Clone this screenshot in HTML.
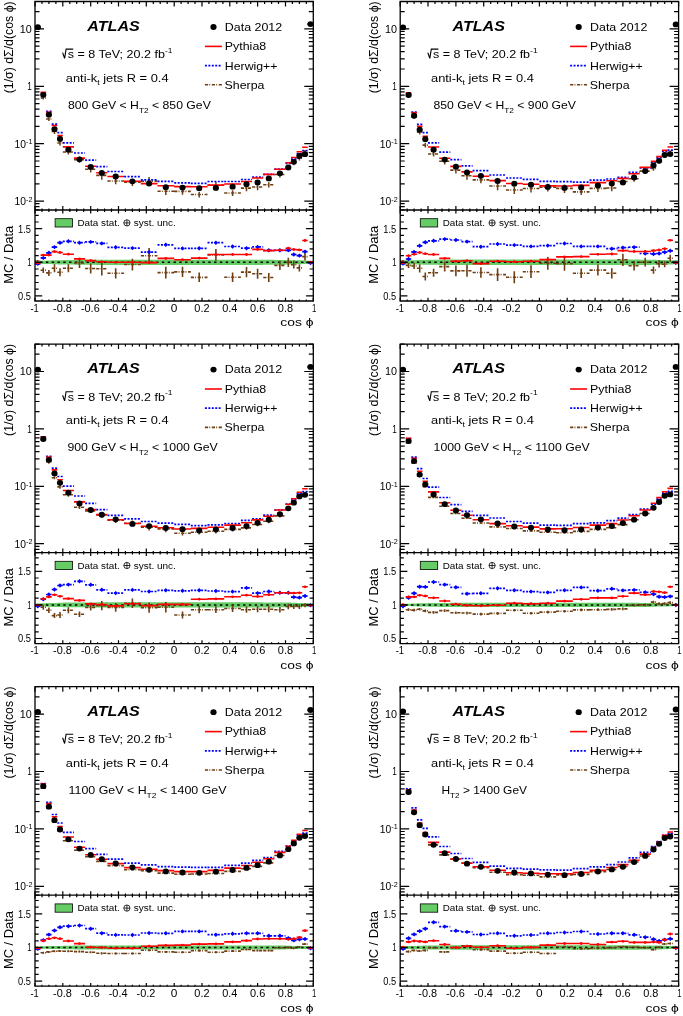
<!DOCTYPE html>
<html><head><meta charset="utf-8"><style>
html,body{margin:0;padding:0;background:#fff;}
svg{display:block;font-family:"Liberation Sans", sans-serif;filter:blur(0.5px);}
</style></head><body>
<svg width="683" height="1016" viewBox="0 0 683 1016">
<rect width="683" height="1016" fill="#fff"/>
<path d="M35 260.8H40.6V263.8H35ZM40.6 260.7H46.1V263.9H40.6ZM46.1 260.5H51.7V264.1H46.1ZM51.7 260.3H57.3V264.3H51.7ZM57.3 260.2H62.8V264.4H57.3ZM62.8 260H74V264.6H62.8ZM74 259.9H85.1V264.7H74ZM85.1 259.8H96.2V264.8H85.1ZM96.2 259.7H107.4V264.9H96.2ZM107.4 259.7H124.1V264.9H107.4ZM124.1 259.7H140.8V264.9H124.1ZM140.8 259.7H157.5V264.9H140.8ZM157.5 259.7H174.2V264.9H157.5ZM174.2 259.7H190.8V264.9H174.2ZM190.8 259.7H207.5V264.9H190.8ZM207.5 259.7H224.2V264.9H207.5ZM224.2 259.7H240.9V264.9H224.2ZM240.9 259.7H252.1V264.9H240.9ZM252.1 259.7H263.2V264.9H252.1ZM263.2 259.8H274.3V264.8H263.2ZM274.3 259.9H285.5V264.7H274.3ZM285.5 260H291V264.6H285.5ZM291 260.2H296.6V264.4H291ZM296.6 260.3H302.2V264.3H296.6ZM302.2 260.5H307.7V264.1H302.2ZM307.7 260.7H313.3V263.9H307.7Z" fill="#66cc66"/>
<line x1="35.00" y1="262.30" x2="313.30" y2="262.30" stroke="#000" stroke-width="1.5" stroke-dasharray="2.4 3.4" stroke-dashoffset="0.7"/>
<path d="M35 26.8H40.6M40.6 98H46.1M46.1 119H51.7M51.7 131.5H57.3M57.3 143H62.8M62.8 152H74M74 159.6H85.1M85.1 169.3H96.2M96.2 175.4H107.4M107.4 181H124.1M124.1 182.2H140.8M140.8 181.1H157.5M157.5 191.3H174.2M174.2 191.4H190.8M190.8 194.5H207.5M207.5 185.3H224.2M224.2 193H240.9M240.9 188.1H252.1M252.1 187H263.2M263.2 184.8H274.3M274.3 174.5H285.5M285.5 167.4H291M291 162.7H296.6M296.6 158.2H302.2M302.2 152.2H307.7M307.7 24.1H313.3" fill="none" stroke="#6f3f12" stroke-width="1.6" stroke-dasharray="3.2 1.2 0.9 1.6"/>
<path d="M37.8 26V27.6M43.3 96.4V99.6M48.9 117.3V120.9M54.5 129.2V134M60 140.7V145.5M68.4 149.7V154.5M79.5 156.8V162.8M90.7 166.4V172.5M101.8 171.7V179.8M115.7 178.1V184.2M132.4 178.9V185.9M149.1 176.9V186.1M165.8 188V195M182.5 188.6V194.7M199.2 191.8V197.5M215.9 182.1V189M232.6 190.3V196M246.5 185.3V191.3M257.6 184.2V190.2M268.8 182.2V187.6M279.9 171.9V177.4M288.3 164.9V170.3M293.8 160.4V165.2M299.4 156.2V160.4M305 149.9V154.7M310.5 23.4V24.9" fill="none" stroke="#6f3f12" stroke-width="1.5"/>
<path d="M35 27.8H40.6M40.6 93.3H46.1M46.1 111.4H51.7M51.7 124.1H57.3M57.3 132.6H62.8M62.8 142.9H74M74 153H85.1M85.1 160.2H96.2M96.2 166.7H107.4M107.4 171.5H124.1M124.1 176.6H140.8M140.8 179.9H157.5M157.5 181.4H174.2M174.2 182.9H190.8M190.8 183.4H207.5M207.5 181.5H224.2M224.2 181.5H240.9M240.9 179.5H252.1M252.1 177.2H263.2M263.2 174.3H274.3M274.3 169.2H285.5M285.5 163.3H291M291 159.1H296.6M296.6 153.6H302.2M302.2 150.5H307.7M307.7 24.4H313.3" fill="none" stroke="#0000ff" stroke-width="1.7" stroke-dasharray="2 1.44"/>
<path d="M35 27.5H40.6M40.6 92.3H46.1M46.1 112.2H51.7M51.7 125.5H57.3M57.3 135.6H62.8M62.8 146.9H74M74 158.1H85.1M85.1 166.2H96.2M96.2 172.7H107.4M107.4 176.5H124.1M124.1 181.3H140.8M140.8 183.6H157.5M157.5 185.8H174.2M174.2 186.6H190.8M190.8 186.7H207.5M207.5 185.1H224.2M224.2 184H240.9M240.9 181.5H252.1M252.1 178H263.2M263.2 174.4H274.3M274.3 169.2H285.5M285.5 162.7H291M291 157.5H296.6M296.6 151.8H302.2M302.2 147.2H307.7M307.7 24.1H313.3" fill="none" stroke="#ff0000" stroke-width="1.6"/>
<path d="M34.7 27.2a3.1 2.9 0 1 0 6.2 0a3.1 2.9 0 1 0 -6.2 0ZM40.2 94.8a3.1 2.9 0 1 0 6.2 0a3.1 2.9 0 1 0 -6.2 0ZM45.8 114.7a3.1 2.9 0 1 0 6.2 0a3.1 2.9 0 1 0 -6.2 0ZM51.4 129.2a3.1 2.9 0 1 0 6.2 0a3.1 2.9 0 1 0 -6.2 0ZM56.9 138.9a3.1 2.9 0 1 0 6.2 0a3.1 2.9 0 1 0 -6.2 0ZM65.3 149.7a3.1 2.9 0 1 0 6.2 0a3.1 2.9 0 1 0 -6.2 0ZM76.4 159.3a3.1 2.9 0 1 0 6.2 0a3.1 2.9 0 1 0 -6.2 0ZM87.6 166.9a3.1 2.9 0 1 0 6.2 0a3.1 2.9 0 1 0 -6.2 0ZM98.7 172.9a3.1 2.9 0 1 0 6.2 0a3.1 2.9 0 1 0 -6.2 0ZM112.6 176.5a3.1 2.9 0 1 0 6.2 0a3.1 2.9 0 1 0 -6.2 0ZM129.3 181.3a3.1 2.9 0 1 0 6.2 0a3.1 2.9 0 1 0 -6.2 0ZM146 183.5a3.1 2.9 0 1 0 6.2 0a3.1 2.9 0 1 0 -6.2 0ZM162.7 187.2a3.1 2.9 0 1 0 6.2 0a3.1 2.9 0 1 0 -6.2 0ZM179.4 187.6a3.1 2.9 0 1 0 6.2 0a3.1 2.9 0 1 0 -6.2 0ZM196.1 188.2a3.1 2.9 0 1 0 6.2 0a3.1 2.9 0 1 0 -6.2 0ZM212.8 187.9a3.1 2.9 0 1 0 6.2 0a3.1 2.9 0 1 0 -6.2 0ZM229.5 186.7a3.1 2.9 0 1 0 6.2 0a3.1 2.9 0 1 0 -6.2 0ZM243.4 184.2a3.1 2.9 0 1 0 6.2 0a3.1 2.9 0 1 0 -6.2 0ZM254.5 182.4a3.1 2.9 0 1 0 6.2 0a3.1 2.9 0 1 0 -6.2 0ZM265.7 178.4a3.1 2.9 0 1 0 6.2 0a3.1 2.9 0 1 0 -6.2 0ZM276.8 173.3a3.1 2.9 0 1 0 6.2 0a3.1 2.9 0 1 0 -6.2 0ZM285.2 167.4a3.1 2.9 0 1 0 6.2 0a3.1 2.9 0 1 0 -6.2 0ZM290.7 161.8a3.1 2.9 0 1 0 6.2 0a3.1 2.9 0 1 0 -6.2 0ZM296.3 156a3.1 2.9 0 1 0 6.2 0a3.1 2.9 0 1 0 -6.2 0ZM301.9 154.2a3.1 2.9 0 1 0 6.2 0a3.1 2.9 0 1 0 -6.2 0ZM307.4 24.1a3.1 2.9 0 1 0 6.2 0a3.1 2.9 0 1 0 -6.2 0Z"/>
<path d="M35 261.2H40.6M40.6 270.3H46.1M46.1 272.9H51.7M51.7 268.2H57.3M57.3 272.3H62.8M62.8 268.2H74M74 263H85.1M85.1 268.5H96.2M96.2 268.8H107.4M107.4 273.3H124.1M124.1 264.5H140.8M140.8 255.7H157.5M157.5 272.6H174.2M174.2 271.9H190.8M190.8 277.4H207.5M207.5 255H224.2M224.2 277.2H240.9M240.9 272.1H252.1M252.1 273.8H263.2M263.2 277.5H274.3M274.3 265.4H285.5M285.5 262.3H291M291 264.6H296.6M296.6 267.9H302.2M302.2 256.6H307.7M307.7 262.3H313.3" fill="none" stroke="#6f3f12" stroke-width="1.6" stroke-dasharray="3.2 1.2 0.9 1.6"/>
<path d="M37.8 259.9V262.6M43.3 267.6V273M48.9 269.9V275.9M54.5 264.2V272.2M60 268.3V276.3M68.4 264.2V272.2M79.5 257.9V268M90.7 263.4V273.5M101.8 262.1V275.5M115.7 268.2V278.4M132.4 258.7V270.4M149.1 248.1V263.4M165.8 266.7V278.4M182.5 266.8V277M199.2 272.6V282.1M215.9 249.1V260.8M232.6 272.5V281.9M246.5 267.1V277.2M257.6 268.8V278.8M268.8 273V282M279.9 260.8V270M288.3 257.7V266.9M293.8 260.6V268.6M299.4 264.4V271.4M305 252.6V260.6M310.5 261V263.6" fill="none" stroke="#6f3f12" stroke-width="1.6"/>
<path d="M35 263.8H40.6M40.6 257.9H46.1M46.1 252.8H51.7M51.7 247.1H57.3M57.3 242.7H62.8M62.8 241.3H74M74 242.7H85.1M85.1 241.9H96.2M96.2 243.4H107.4M107.4 247.3H124.1M124.1 248.1H140.8M140.8 252.1H157.5M157.5 244.8H174.2M174.2 248.4H190.8M190.8 248.3H207.5M207.5 242.7H224.2M224.2 246.5H240.9M240.9 248.2H252.1M252.1 246.9H263.2M263.2 250.3H274.3M274.3 250.3H285.5M285.5 250.3H291M291 254.5H296.6M296.6 255.6H302.2M302.2 251.6H307.7M307.7 263H313.3" fill="none" stroke="#0000ff" stroke-width="1.7" stroke-dasharray="2 1.44"/>
<path d="M37.8 261.6l2.2 2.2l-2.2 2.2l-2.2 -2.2ZM43.3 255.7l2.2 2.2l-2.2 2.2l-2.2 -2.2ZM48.9 250.6l2.2 2.2l-2.2 2.2l-2.2 -2.2ZM54.5 244.9l2.2 2.2l-2.2 2.2l-2.2 -2.2ZM60 240.5l2.2 2.2l-2.2 2.2l-2.2 -2.2ZM68.4 239.1l2.2 2.2l-2.2 2.2l-2.2 -2.2ZM79.5 240.5l2.2 2.2l-2.2 2.2l-2.2 -2.2ZM90.7 239.7l2.2 2.2l-2.2 2.2l-2.2 -2.2ZM101.8 241.2l2.2 2.2l-2.2 2.2l-2.2 -2.2ZM115.7 245.1l2.2 2.2l-2.2 2.2l-2.2 -2.2ZM132.4 245.9l2.2 2.2l-2.2 2.2l-2.2 -2.2ZM149.1 249.9l2.2 2.2l-2.2 2.2l-2.2 -2.2ZM165.8 242.6l2.2 2.2l-2.2 2.2l-2.2 -2.2ZM182.5 246.2l2.2 2.2l-2.2 2.2l-2.2 -2.2ZM199.2 246.1l2.2 2.2l-2.2 2.2l-2.2 -2.2ZM215.9 240.5l2.2 2.2l-2.2 2.2l-2.2 -2.2ZM232.6 244.3l2.2 2.2l-2.2 2.2l-2.2 -2.2ZM246.5 246l2.2 2.2l-2.2 2.2l-2.2 -2.2ZM257.6 244.7l2.2 2.2l-2.2 2.2l-2.2 -2.2ZM268.8 248.1l2.2 2.2l-2.2 2.2l-2.2 -2.2ZM279.9 248.1l2.2 2.2l-2.2 2.2l-2.2 -2.2ZM288.3 248.1l2.2 2.2l-2.2 2.2l-2.2 -2.2ZM293.8 252.3l2.2 2.2l-2.2 2.2l-2.2 -2.2ZM299.4 253.4l2.2 2.2l-2.2 2.2l-2.2 -2.2ZM305 249.4l2.2 2.2l-2.2 2.2l-2.2 -2.2ZM310.5 260.8l2.2 2.2l-2.2 2.2l-2.2 -2.2Z" fill="#0000ff"/>
<path d="M35 263H40.6M40.6 255.1H46.1M46.1 255.1H51.7M51.7 251.6H57.3M57.3 252.5H62.8M62.8 254.2H74M74 258.9H85.1M85.1 260.6H96.2M96.2 261.8H107.4M107.4 262.3H124.1M124.1 262.3H140.8M140.8 262.6H157.5M157.5 258.4H174.2M174.2 259.7H190.8M190.8 258.1H207.5M207.5 254.5H224.2M224.2 254.5H240.9M240.9 254.5H252.1M252.1 249.4H263.2M263.2 250.6H274.3M274.3 250.2H285.5M285.5 248.2H291M291 249.5H296.6M296.6 249.9H302.2M302.2 240.5H307.7M307.7 262.3H313.3" fill="none" stroke="#ff0000" stroke-width="1.6"/>
<path d="M36.4 263a1.4 1.4 0 1 0 2.8 0a1.4 1.4 0 1 0 -2.8 0ZM41.9 255.1a1.4 1.4 0 1 0 2.8 0a1.4 1.4 0 1 0 -2.8 0ZM47.5 255.1a1.4 1.4 0 1 0 2.8 0a1.4 1.4 0 1 0 -2.8 0ZM53.1 251.6a1.4 1.4 0 1 0 2.8 0a1.4 1.4 0 1 0 -2.8 0ZM58.6 252.5a1.4 1.4 0 1 0 2.8 0a1.4 1.4 0 1 0 -2.8 0ZM67 254.2a1.4 1.4 0 1 0 2.8 0a1.4 1.4 0 1 0 -2.8 0ZM78.1 258.9a1.4 1.4 0 1 0 2.8 0a1.4 1.4 0 1 0 -2.8 0ZM89.3 260.6a1.4 1.4 0 1 0 2.8 0a1.4 1.4 0 1 0 -2.8 0ZM100.4 261.8a1.4 1.4 0 1 0 2.8 0a1.4 1.4 0 1 0 -2.8 0ZM114.3 262.3a1.4 1.4 0 1 0 2.8 0a1.4 1.4 0 1 0 -2.8 0ZM131 262.3a1.4 1.4 0 1 0 2.8 0a1.4 1.4 0 1 0 -2.8 0ZM147.7 262.6a1.4 1.4 0 1 0 2.8 0a1.4 1.4 0 1 0 -2.8 0ZM164.4 258.4a1.4 1.4 0 1 0 2.8 0a1.4 1.4 0 1 0 -2.8 0ZM181.1 259.7a1.4 1.4 0 1 0 2.8 0a1.4 1.4 0 1 0 -2.8 0ZM197.8 258.1a1.4 1.4 0 1 0 2.8 0a1.4 1.4 0 1 0 -2.8 0ZM214.5 254.5a1.4 1.4 0 1 0 2.8 0a1.4 1.4 0 1 0 -2.8 0ZM231.2 254.5a1.4 1.4 0 1 0 2.8 0a1.4 1.4 0 1 0 -2.8 0ZM245.1 254.5a1.4 1.4 0 1 0 2.8 0a1.4 1.4 0 1 0 -2.8 0ZM256.2 249.4a1.4 1.4 0 1 0 2.8 0a1.4 1.4 0 1 0 -2.8 0ZM267.4 250.6a1.4 1.4 0 1 0 2.8 0a1.4 1.4 0 1 0 -2.8 0ZM278.5 250.2a1.4 1.4 0 1 0 2.8 0a1.4 1.4 0 1 0 -2.8 0ZM286.9 248.2a1.4 1.4 0 1 0 2.8 0a1.4 1.4 0 1 0 -2.8 0ZM292.4 249.5a1.4 1.4 0 1 0 2.8 0a1.4 1.4 0 1 0 -2.8 0ZM298 249.9a1.4 1.4 0 1 0 2.8 0a1.4 1.4 0 1 0 -2.8 0ZM303.6 240.5a1.4 1.4 0 1 0 2.8 0a1.4 1.4 0 1 0 -2.8 0ZM309.1 262.3a1.4 1.4 0 1 0 2.8 0a1.4 1.4 0 1 0 -2.8 0Z" fill="#ff0000"/>
<path d="M35 1.5H313.3V301H35ZM35 210H313.3" fill="none" stroke="#000" stroke-width="1.3"/>
<path d="M35 1.5V6.5M35 206V213.5M35 301V297.7M42 1.5V4M42 208.4V212M42 301V299.6M48.9 1.5V4M48.9 208.4V212M48.9 301V299.6M55.9 1.5V4M55.9 208.4V212M55.9 301V299.6M62.8 1.5V6.5M62.8 206V213.5M62.8 301V297.7M69.8 1.5V4M69.8 208.4V212M69.8 301V299.6M76.7 1.5V4M76.7 208.4V212M76.7 301V299.6M83.7 1.5V4M83.7 208.4V212M83.7 301V299.6M90.7 1.5V6.5M90.7 206V213.5M90.7 301V297.7M97.6 1.5V4M97.6 208.4V212M97.6 301V299.6M104.6 1.5V4M104.6 208.4V212M104.6 301V299.6M111.5 1.5V4M111.5 208.4V212M111.5 301V299.6M118.5 1.5V6.5M118.5 206V213.5M118.5 301V297.7M125.4 1.5V4M125.4 208.4V212M125.4 301V299.6M132.4 1.5V4M132.4 208.4V212M132.4 301V299.6M139.4 1.5V4M139.4 208.4V212M139.4 301V299.6M146.3 1.5V6.5M146.3 206V213.5M146.3 301V297.7M153.3 1.5V4M153.3 208.4V212M153.3 301V299.6M160.2 1.5V4M160.2 208.4V212M160.2 301V299.6M167.2 1.5V4M167.2 208.4V212M167.2 301V299.6M174.2 1.5V6.5M174.2 206V213.5M174.2 301V297.7M181.1 1.5V4M181.1 208.4V212M181.1 301V299.6M188.1 1.5V4M188.1 208.4V212M188.1 301V299.6M195 1.5V4M195 208.4V212M195 301V299.6M202 1.5V6.5M202 206V213.5M202 301V297.7M208.9 1.5V4M208.9 208.4V212M208.9 301V299.6M215.9 1.5V4M215.9 208.4V212M215.9 301V299.6M222.9 1.5V4M222.9 208.4V212M222.9 301V299.6M229.8 1.5V6.5M229.8 206V213.5M229.8 301V297.7M236.8 1.5V4M236.8 208.4V212M236.8 301V299.6M243.7 1.5V4M243.7 208.4V212M243.7 301V299.6M250.7 1.5V4M250.7 208.4V212M250.7 301V299.6M257.6 1.5V6.5M257.6 206V213.5M257.6 301V297.7M264.6 1.5V4M264.6 208.4V212M264.6 301V299.6M271.6 1.5V4M271.6 208.4V212M271.6 301V299.6M278.5 1.5V4M278.5 208.4V212M278.5 301V299.6M285.5 1.5V6.5M285.5 206V213.5M285.5 301V297.7M292.4 1.5V4M292.4 208.4V212M292.4 301V299.6M299.4 1.5V4M299.4 208.4V212M299.4 301V299.6M306.3 1.5V4M306.3 208.4V212M306.3 301V299.6M313.3 1.5V6.5M313.3 206V213.5M313.3 301V297.7M35 210H39.5M308.8 210H313.3M35 206.7H39.5M308.8 206.7H313.3M35 203.7H39.5M308.8 203.7H313.3M35 201.1H44M304.3 201.1H313.3M35 183.8H39.5M308.8 183.8H313.3M35 173.7H39.5M308.8 173.7H313.3M35 166.5H39.5M308.8 166.5H313.3M35 161H39.5M308.8 161H313.3M35 156.4H39.5M308.8 156.4H313.3M35 152.6H39.5M308.8 152.6H313.3M35 149.3H39.5M308.8 149.3H313.3M35 146.3H39.5M308.8 146.3H313.3M35 143.7H44M304.3 143.7H313.3M35 126.4H39.5M308.8 126.4H313.3M35 116.3H39.5M308.8 116.3H313.3M35 109.1H39.5M308.8 109.1H313.3M35 103.6H39.5M308.8 103.6H313.3M35 99H39.5M308.8 99H313.3M35 95.2H39.5M308.8 95.2H313.3M35 91.9H39.5M308.8 91.9H313.3M35 88.9H39.5M308.8 88.9H313.3M35 86.3H44M304.3 86.3H313.3M35 69H39.5M308.8 69H313.3M35 58.9H39.5M308.8 58.9H313.3M35 51.7H39.5M308.8 51.7H313.3M35 46.2H39.5M308.8 46.2H313.3M35 41.6H39.5M308.8 41.6H313.3M35 37.8H39.5M308.8 37.8H313.3M35 34.5H39.5M308.8 34.5H313.3M35 31.5H39.5M308.8 31.5H313.3M35 28.9H44M304.3 28.9H313.3M35 11.6H39.5M308.8 11.6H313.3M35 1.5H39.5M308.8 1.5H313.3M35 295.9H42.2M306.1 295.9H313.3M35 289.2H38.7M309.6 289.2H313.3M35 282.5H38.7M309.6 282.5H313.3M35 275.7H38.7M309.6 275.7H313.3M35 269H38.7M309.6 269H313.3M35 262.3H42.2M306.1 262.3H313.3M35 255.6H38.7M309.6 255.6H313.3M35 248.9H38.7M309.6 248.9H313.3M35 242.1H38.7M309.6 242.1H313.3M35 235.4H38.7M309.6 235.4H313.3M35 228.7H42.2M306.1 228.7H313.3M35 222H38.7M309.6 222H313.3M35 215.3H38.7M309.6 215.3H313.3" fill="none" stroke="#000" stroke-width="1.2"/>
<text x="19.75" y="32.79" font-size="10.0" textLength="12.00" lengthAdjust="spacingAndGlyphs">10</text>
<text x="27.15" y="90.20" font-size="10.0" textLength="4.60" lengthAdjust="spacingAndGlyphs">1</text>
<text x="14.60" y="147.60" font-size="10.0" textLength="17.85" lengthAdjust="spacingAndGlyphs">10<tspan dy="-3.4" font-size="7">-1</tspan></text>
<text x="14.60" y="205.01" font-size="10.0" textLength="17.85" lengthAdjust="spacingAndGlyphs">10<tspan dy="-3.4" font-size="7">-2</tspan></text>
<text x="18.05" y="232.60" font-size="10.0" textLength="12.90" lengthAdjust="spacingAndGlyphs">1.5</text>
<text x="27.15" y="266.20" font-size="10.0" textLength="4.30" lengthAdjust="spacingAndGlyphs">1</text>
<text x="18.05" y="299.80" font-size="10.0" textLength="12.90" lengthAdjust="spacingAndGlyphs">0.5</text>
<text x="30.50" y="311.60" font-size="10.0" textLength="8.30" lengthAdjust="spacingAndGlyphs">-1</text>
<text x="53.08" y="311.60" font-size="10.0" textLength="18.80" lengthAdjust="spacingAndGlyphs">-0.8</text>
<text x="80.91" y="311.60" font-size="10.0" textLength="18.80" lengthAdjust="spacingAndGlyphs">-0.6</text>
<text x="108.74" y="311.60" font-size="10.0" textLength="18.80" lengthAdjust="spacingAndGlyphs">-0.4</text>
<text x="136.57" y="311.60" font-size="10.0" textLength="18.80" lengthAdjust="spacingAndGlyphs">-0.2</text>
<text x="170.85" y="311.60" font-size="10.0" textLength="6.60" lengthAdjust="spacingAndGlyphs">0</text>
<text x="194.38" y="311.60" font-size="10.0" textLength="15.20" lengthAdjust="spacingAndGlyphs">0.2</text>
<text x="222.21" y="311.60" font-size="10.0" textLength="15.20" lengthAdjust="spacingAndGlyphs">0.4</text>
<text x="250.04" y="311.60" font-size="10.0" textLength="15.20" lengthAdjust="spacingAndGlyphs">0.6</text>
<text x="277.87" y="311.60" font-size="10.0" textLength="15.20" lengthAdjust="spacingAndGlyphs">0.8</text>
<text x="311.95" y="311.60" font-size="10.0" textLength="4.30" lengthAdjust="spacingAndGlyphs">1</text>
<text x="280.30" y="326.30" font-size="11" textLength="33.20" lengthAdjust="spacingAndGlyphs">cos &#981;</text>
<text transform="translate(12.70,93.30) rotate(-90)" font-size="12" textLength="92" lengthAdjust="spacingAndGlyphs">(1/&#963;) d&#931;/d(cos &#981;)</text>
<text transform="translate(13.00,283.80) rotate(-90)" font-size="12.6" textLength="58" lengthAdjust="spacingAndGlyphs">MC / Data</text>
<rect x="55.10" y="218.70" width="17.4" height="8.3" fill="#66cc66" stroke="#000" stroke-width="0.8"/>
<text x="77.50" y="226.00" font-size="9.6" textLength="42.20" lengthAdjust="spacingAndGlyphs">Data stat.</text>
<text x="133.70" y="226.00" font-size="9.6" textLength="42.20" lengthAdjust="spacingAndGlyphs">syst. unc.</text>
<g transform="translate(126.90,222.90)" stroke="#000" stroke-width="0.8"><circle r="3.1" fill="none"/><line x1="-3.1" y1="0" x2="3.1" y2="0"/><line x1="0" y1="-3.1" x2="0" y2="3.1"/></g>
<text x="87.30" y="30.50" font-size="14" textLength="52.50" lengthAdjust="spacingAndGlyphs" font-weight="bold" font-style="italic">ATLAS</text>
<text x="67.70" y="57.90" font-size="10.3" textLength="104.80" lengthAdjust="spacingAndGlyphs" >s = 8 TeV; 20.2 fb<tspan dy="-5.2" font-size="7">-1</tspan></text>
<path d="M62.60,52.60 L64.60,58.30 L66.10,49.10 L73.20,49.10" fill="none" stroke="#000" stroke-width="1.1"/>
<text x="65.80" y="81.60" font-size="10.5" textLength="102.80" lengthAdjust="spacingAndGlyphs" >anti-k<tspan dy="3.2" font-size="7">t</tspan><tspan dy="-3.2"> jets R = 0.4</tspan></text>
<text x="67.90" y="108.70" font-size="10.3" textLength="142.90" lengthAdjust="spacingAndGlyphs" >800 GeV &lt; H<tspan dy="3.9" font-size="7">T2</tspan><tspan dy="-3.9"> &lt; 850 GeV</tspan></text>
<text x="224.80" y="30.65" font-size="10.4" textLength="57.40" lengthAdjust="spacingAndGlyphs" >Data 2012</text>
<text x="224.80" y="50.00" font-size="10.4" textLength="41.40" lengthAdjust="spacingAndGlyphs" >Pythia8</text>
<text x="224.80" y="69.80" font-size="10.4" textLength="52.70" lengthAdjust="spacingAndGlyphs" >Herwig++</text>
<text x="224.50" y="88.50" font-size="10.4" textLength="39.90" lengthAdjust="spacingAndGlyphs" >Sherpa</text>
<ellipse cx="213.50" cy="27.00" rx="3.1" ry="2.9"/>
<line x1="204.90" y1="46.40" x2="221.90" y2="46.40" stroke="#ff0000" stroke-width="1.6" />
<line x1="204.90" y1="65.60" x2="221.50" y2="65.60" stroke="#0000ff" stroke-width="1.7" stroke-dasharray="2 1.44"/>
<line x1="204.90" y1="84.80" x2="221.90" y2="84.80" stroke="#6f3f12" stroke-width="1.6" stroke-dasharray="3.2 1.2 0.9 1.6"/>
<path d="M400.2 260.4H405.8V264.2H400.2ZM405.8 260.3H411.3V264.3H405.8ZM411.3 260.2H416.9V264.4H411.3ZM416.9 260H422.5V264.6H416.9ZM422.5 259.9H428V264.7H422.5ZM428 259.8H439.2V264.8H428ZM439.2 259.7H450.3V264.9H439.2ZM450.3 259.6H461.4V265H450.3ZM461.4 259.5H472.6V265.1H461.4ZM472.6 259.5H489.3V265.1H472.6ZM489.3 259.5H506V265.1H489.3ZM506 259.5H522.7V265.1H506ZM522.7 259.5H539.4V265.1H522.7ZM539.4 259.5H556.1V265.1H539.4ZM556.1 259.5H572.8V265.1H556.1ZM572.8 259.5H589.5V265.1H572.8ZM589.5 259.5H606.2V265.1H589.5ZM606.2 259.5H617.4V265.1H606.2ZM617.4 259.5H628.5V265.1H617.4ZM628.5 259.6H639.6V265H628.5ZM639.6 259.7H650.8V264.9H639.6ZM650.8 259.8H656.3V264.8H650.8ZM656.3 259.9H661.9V264.7H656.3ZM661.9 260H667.5V264.6H661.9ZM667.5 260.2H673V264.4H667.5ZM673 260.3H678.6V264.3H673Z" fill="#66cc66"/>
<line x1="400.20" y1="262.30" x2="678.60" y2="262.30" stroke="#000" stroke-width="1.5" stroke-dasharray="2.4 3.4" stroke-dashoffset="0.7"/>
<path d="M400.2 27.1H405.8M405.8 96.2H411.3M411.3 117.1H416.9M416.9 132.1H422.5M422.5 145.1H428M428 154H439.2M439.2 161.3H450.3M450.3 170.1H461.4M461.4 175.8H472.6M472.6 179.9H489.3M489.3 186H506M506 190H522.7M522.7 188.5H539.4M539.4 187.2H556.1M556.1 188.4H572.8M572.8 191.9H589.5M589.5 188.4H606.2M606.2 188H617.4M617.4 181.5H628.5M628.5 178.7H639.6M639.6 171.1H650.8M650.8 168.5H656.3M656.3 161.4H661.9M661.9 155.8H667.5M667.5 152.6H673M673 24.4H678.6" fill="none" stroke="#6f3f12" stroke-width="1.6" stroke-dasharray="3.2 1.2 0.9 1.6"/>
<path d="M403 26.3V27.9M408.6 94.6V97.8M414.1 115.4V119M419.7 129.8V134.6M425.3 142.8V147.6M433.6 151.7V156.5M444.7 158.4V164.5M455.9 167.2V173.5M467 172.5V179.7M480.9 177V183.2M497.6 182.5V190.2M514.3 186.6V193.9M531 184.9V192.6M547.8 183.7V191.4M564.5 184.4V193.1M581.2 189.3V194.9M597.9 185.4V191.9M611.8 185.2V191.2M622.9 178.1V185.3M634.1 176.1V181.7M645.2 168.6V173.8M653.5 166.5V170.8M659.1 159.3V163.6M664.7 154V157.6M670.2 150.6V154.8M675.8 23.6V25.2" fill="none" stroke="#6f3f12" stroke-width="1.5"/>
<path d="M400.2 27.9H405.8M405.8 93.8H411.3M411.3 112.1H416.9M416.9 124.3H422.5M422.5 132.7H428M428 142.8H439.2M439.2 152.2H450.3M450.3 159.6H461.4M461.4 165.8H472.6M472.6 170.6H489.3M489.3 175H506M506 178H522.7M522.7 179.4H539.4M539.4 181.3H556.1M556.1 181.7H572.8M572.8 182.2H589.5M589.5 180.1H606.2M606.2 179H617.4M617.4 177.4H628.5M628.5 172.3H639.6M639.6 168H650.8M650.8 162.5H656.3M656.3 157.8H661.9M661.9 151.5H667.5M667.5 150.1H673M673 24.6H678.6" fill="none" stroke="#0000ff" stroke-width="1.7" stroke-dasharray="2 1.44"/>
<path d="M400.2 27.6H405.8M405.8 92.7H411.3M411.3 112.9H416.9M416.9 126.4H422.5M422.5 136.2H428M428 147H439.2M439.2 158.2H450.3M450.3 166.4H461.4M461.4 171.9H472.6M472.6 176.3H489.3M489.3 180.6H506M506 183.5H522.7M522.7 184.3H539.4M539.4 185.9H556.1M556.1 186H572.8M572.8 185.4H589.5M589.5 182.6H606.2M606.2 180.7H617.4M617.4 178.4H628.5M628.5 173.7H639.6M639.6 167.4H650.8M650.8 161.4H656.3M656.3 156.6H661.9M661.9 150.4H667.5M667.5 147H673M673 24.6H678.6" fill="none" stroke="#ff0000" stroke-width="1.6"/>
<path d="M399.9 27.4a3.1 2.9 0 1 0 6.2 0a3.1 2.9 0 1 0 -6.2 0ZM405.5 95a3.1 2.9 0 1 0 6.2 0a3.1 2.9 0 1 0 -6.2 0ZM411 115.7a3.1 2.9 0 1 0 6.2 0a3.1 2.9 0 1 0 -6.2 0ZM416.6 129.7a3.1 2.9 0 1 0 6.2 0a3.1 2.9 0 1 0 -6.2 0ZM422.2 139.2a3.1 2.9 0 1 0 6.2 0a3.1 2.9 0 1 0 -6.2 0ZM430.5 149.7a3.1 2.9 0 1 0 6.2 0a3.1 2.9 0 1 0 -6.2 0ZM441.6 159.6a3.1 2.9 0 1 0 6.2 0a3.1 2.9 0 1 0 -6.2 0ZM452.8 166.7a3.1 2.9 0 1 0 6.2 0a3.1 2.9 0 1 0 -6.2 0ZM463.9 172.5a3.1 2.9 0 1 0 6.2 0a3.1 2.9 0 1 0 -6.2 0ZM477.8 175.8a3.1 2.9 0 1 0 6.2 0a3.1 2.9 0 1 0 -6.2 0ZM494.5 181a3.1 2.9 0 1 0 6.2 0a3.1 2.9 0 1 0 -6.2 0ZM511.2 183.7a3.1 2.9 0 1 0 6.2 0a3.1 2.9 0 1 0 -6.2 0ZM527.9 184.7a3.1 2.9 0 1 0 6.2 0a3.1 2.9 0 1 0 -6.2 0ZM544.7 186.9a3.1 2.9 0 1 0 6.2 0a3.1 2.9 0 1 0 -6.2 0ZM561.4 187.9a3.1 2.9 0 1 0 6.2 0a3.1 2.9 0 1 0 -6.2 0ZM578.1 187.4a3.1 2.9 0 1 0 6.2 0a3.1 2.9 0 1 0 -6.2 0ZM594.8 185.4a3.1 2.9 0 1 0 6.2 0a3.1 2.9 0 1 0 -6.2 0ZM608.7 183.6a3.1 2.9 0 1 0 6.2 0a3.1 2.9 0 1 0 -6.2 0ZM619.8 182.4a3.1 2.9 0 1 0 6.2 0a3.1 2.9 0 1 0 -6.2 0ZM631 177.4a3.1 2.9 0 1 0 6.2 0a3.1 2.9 0 1 0 -6.2 0ZM642.1 171.1a3.1 2.9 0 1 0 6.2 0a3.1 2.9 0 1 0 -6.2 0ZM650.4 165.4a3.1 2.9 0 1 0 6.2 0a3.1 2.9 0 1 0 -6.2 0ZM656 160.8a3.1 2.9 0 1 0 6.2 0a3.1 2.9 0 1 0 -6.2 0ZM661.6 155a3.1 2.9 0 1 0 6.2 0a3.1 2.9 0 1 0 -6.2 0ZM667.1 154.1a3.1 2.9 0 1 0 6.2 0a3.1 2.9 0 1 0 -6.2 0ZM672.7 24.4a3.1 2.9 0 1 0 6.2 0a3.1 2.9 0 1 0 -6.2 0Z"/>
<path d="M400.2 261.3H405.8M405.8 265.4H411.3M411.3 266H416.9M416.9 268.3H422.5M422.5 276.5H428M428 272.8H439.2M439.2 266.6H450.3M450.3 270.9H461.4M461.4 270.7H472.6M472.6 272.5H489.3M489.3 274.6H506M506 277.3H522.7M522.7 271.7H539.4M539.4 263.3H556.1M556.1 263.6H572.8M572.8 273.3H589.5M589.5 270.1H606.2M606.2 273.3H617.4M617.4 259.8H628.5M628.5 265.8H639.6M639.6 262.2H650.8M650.8 270.1H656.3M656.3 263.8H661.9M661.9 264.2H667.5M667.5 258.2H673M673 262.3H678.6" fill="none" stroke="#6f3f12" stroke-width="1.6" stroke-dasharray="3.2 1.2 0.9 1.6"/>
<path d="M403 259.9V262.6M408.6 262.7V268.1M414.1 263V269M419.7 264.3V272.4M425.3 272.4V280.5M433.6 268.8V276.8M444.7 261.6V271.6M455.9 265.6V276.2M467 264.7V276.7M480.9 267.3V277.8M497.6 268.2V281M514.3 271.2V283.3M531 265.3V278.1M547.8 256.9V269.7M564.5 256.5V270.8M581.2 268.6V278M597.9 264.6V275.6M611.8 268.3V278.4M622.9 253.8V265.9M634.1 261.1V270.5M645.2 257.8V266.5M653.5 266.5V273.7M659.1 260.1V267.4M664.7 261.2V267.3M670.2 254.7V261.7M675.8 261V263.6" fill="none" stroke="#6f3f12" stroke-width="1.6"/>
<path d="M400.2 263.6H405.8M405.8 259H411.3M411.3 251.9H416.9M416.9 245.8H422.5M422.5 242.3H428M428 240.8H439.2M439.2 239.1H450.3M450.3 240H461.4M461.4 241.6H472.6M472.6 246.7H489.3M489.3 244H506M506 245.1H522.7M522.7 246.4H539.4M539.4 245.6H556.1M556.1 243.5H572.8M572.8 246.4H589.5M589.5 246.4H606.2M606.2 248.7H617.4M617.4 247.6H628.5M628.5 247.2H639.6M639.6 253.5H650.8M650.8 254H656.3M656.3 253.5H661.9M661.9 252.2H667.5M667.5 250.8H673M673 262.7H678.6" fill="none" stroke="#0000ff" stroke-width="1.7" stroke-dasharray="2 1.44"/>
<path d="M403 261.4l2.2 2.2l-2.2 2.2l-2.2 -2.2ZM408.6 256.8l2.2 2.2l-2.2 2.2l-2.2 -2.2ZM414.1 249.7l2.2 2.2l-2.2 2.2l-2.2 -2.2ZM419.7 243.6l2.2 2.2l-2.2 2.2l-2.2 -2.2ZM425.3 240.1l2.2 2.2l-2.2 2.2l-2.2 -2.2ZM433.6 238.6l2.2 2.2l-2.2 2.2l-2.2 -2.2ZM444.7 236.9l2.2 2.2l-2.2 2.2l-2.2 -2.2ZM455.9 237.8l2.2 2.2l-2.2 2.2l-2.2 -2.2ZM467 239.4l2.2 2.2l-2.2 2.2l-2.2 -2.2ZM480.9 244.5l2.2 2.2l-2.2 2.2l-2.2 -2.2ZM497.6 241.8l2.2 2.2l-2.2 2.2l-2.2 -2.2ZM514.3 242.9l2.2 2.2l-2.2 2.2l-2.2 -2.2ZM531 244.2l2.2 2.2l-2.2 2.2l-2.2 -2.2ZM547.8 243.4l2.2 2.2l-2.2 2.2l-2.2 -2.2ZM564.5 241.3l2.2 2.2l-2.2 2.2l-2.2 -2.2ZM581.2 244.2l2.2 2.2l-2.2 2.2l-2.2 -2.2ZM597.9 244.2l2.2 2.2l-2.2 2.2l-2.2 -2.2ZM611.8 246.5l2.2 2.2l-2.2 2.2l-2.2 -2.2ZM622.9 245.4l2.2 2.2l-2.2 2.2l-2.2 -2.2ZM634.1 245l2.2 2.2l-2.2 2.2l-2.2 -2.2ZM645.2 251.3l2.2 2.2l-2.2 2.2l-2.2 -2.2ZM653.5 251.8l2.2 2.2l-2.2 2.2l-2.2 -2.2ZM659.1 251.3l2.2 2.2l-2.2 2.2l-2.2 -2.2ZM664.7 250l2.2 2.2l-2.2 2.2l-2.2 -2.2ZM670.2 248.6l2.2 2.2l-2.2 2.2l-2.2 -2.2ZM675.8 260.5l2.2 2.2l-2.2 2.2l-2.2 -2.2Z" fill="#0000ff"/>
<path d="M400.2 262.7H405.8M405.8 255.7H411.3M411.3 254.3H416.9M416.9 252.5H422.5M422.5 253.7H428M428 254.5H439.2M439.2 258.4H450.3M450.3 261.3H461.4M461.4 260.7H472.6M472.6 263.6H489.3M489.3 261.2H506M506 261.7H522.7M522.7 261.2H539.4M539.4 259.6H556.1M556.1 256.9H572.8M572.8 256.6H589.5M589.5 254.3H606.2M606.2 254H617.4M617.4 250.6H628.5M628.5 251.5H639.6M639.6 251.5H650.8M650.8 250.6H656.3M656.3 250H661.9M661.9 248.7H667.5M667.5 240.3H673M673 262.7H678.6" fill="none" stroke="#ff0000" stroke-width="1.6"/>
<path d="M401.6 262.7a1.4 1.4 0 1 0 2.8 0a1.4 1.4 0 1 0 -2.8 0ZM407.2 255.7a1.4 1.4 0 1 0 2.8 0a1.4 1.4 0 1 0 -2.8 0ZM412.7 254.3a1.4 1.4 0 1 0 2.8 0a1.4 1.4 0 1 0 -2.8 0ZM418.3 252.5a1.4 1.4 0 1 0 2.8 0a1.4 1.4 0 1 0 -2.8 0ZM423.9 253.7a1.4 1.4 0 1 0 2.8 0a1.4 1.4 0 1 0 -2.8 0ZM432.2 254.5a1.4 1.4 0 1 0 2.8 0a1.4 1.4 0 1 0 -2.8 0ZM443.3 258.4a1.4 1.4 0 1 0 2.8 0a1.4 1.4 0 1 0 -2.8 0ZM454.5 261.3a1.4 1.4 0 1 0 2.8 0a1.4 1.4 0 1 0 -2.8 0ZM465.6 260.7a1.4 1.4 0 1 0 2.8 0a1.4 1.4 0 1 0 -2.8 0ZM479.5 263.6a1.4 1.4 0 1 0 2.8 0a1.4 1.4 0 1 0 -2.8 0ZM496.2 261.2a1.4 1.4 0 1 0 2.8 0a1.4 1.4 0 1 0 -2.8 0ZM512.9 261.7a1.4 1.4 0 1 0 2.8 0a1.4 1.4 0 1 0 -2.8 0ZM529.6 261.2a1.4 1.4 0 1 0 2.8 0a1.4 1.4 0 1 0 -2.8 0ZM546.4 259.6a1.4 1.4 0 1 0 2.8 0a1.4 1.4 0 1 0 -2.8 0ZM563.1 256.9a1.4 1.4 0 1 0 2.8 0a1.4 1.4 0 1 0 -2.8 0ZM579.8 256.6a1.4 1.4 0 1 0 2.8 0a1.4 1.4 0 1 0 -2.8 0ZM596.5 254.3a1.4 1.4 0 1 0 2.8 0a1.4 1.4 0 1 0 -2.8 0ZM610.4 254a1.4 1.4 0 1 0 2.8 0a1.4 1.4 0 1 0 -2.8 0ZM621.5 250.6a1.4 1.4 0 1 0 2.8 0a1.4 1.4 0 1 0 -2.8 0ZM632.7 251.5a1.4 1.4 0 1 0 2.8 0a1.4 1.4 0 1 0 -2.8 0ZM643.8 251.5a1.4 1.4 0 1 0 2.8 0a1.4 1.4 0 1 0 -2.8 0ZM652.1 250.6a1.4 1.4 0 1 0 2.8 0a1.4 1.4 0 1 0 -2.8 0ZM657.7 250a1.4 1.4 0 1 0 2.8 0a1.4 1.4 0 1 0 -2.8 0ZM663.3 248.7a1.4 1.4 0 1 0 2.8 0a1.4 1.4 0 1 0 -2.8 0ZM668.8 240.3a1.4 1.4 0 1 0 2.8 0a1.4 1.4 0 1 0 -2.8 0ZM674.4 262.7a1.4 1.4 0 1 0 2.8 0a1.4 1.4 0 1 0 -2.8 0Z" fill="#ff0000"/>
<path d="M400.2 1.5H678.6V301H400.2ZM400.2 210H678.6" fill="none" stroke="#000" stroke-width="1.3"/>
<path d="M400.2 1.5V6.5M400.2 206V213.5M400.2 301V297.7M407.2 1.5V4M407.2 208.4V212M407.2 301V299.6M414.1 1.5V4M414.1 208.4V212M414.1 301V299.6M421.1 1.5V4M421.1 208.4V212M421.1 301V299.6M428 1.5V6.5M428 206V213.5M428 301V297.7M435 1.5V4M435 208.4V212M435 301V299.6M442 1.5V4M442 208.4V212M442 301V299.6M448.9 1.5V4M448.9 208.4V212M448.9 301V299.6M455.9 1.5V6.5M455.9 206V213.5M455.9 301V297.7M462.8 1.5V4M462.8 208.4V212M462.8 301V299.6M469.8 1.5V4M469.8 208.4V212M469.8 301V299.6M476.8 1.5V4M476.8 208.4V212M476.8 301V299.6M483.7 1.5V6.5M483.7 206V213.5M483.7 301V297.7M490.7 1.5V4M490.7 208.4V212M490.7 301V299.6M497.6 1.5V4M497.6 208.4V212M497.6 301V299.6M504.6 1.5V4M504.6 208.4V212M504.6 301V299.6M511.6 1.5V6.5M511.6 206V213.5M511.6 301V297.7M518.5 1.5V4M518.5 208.4V212M518.5 301V299.6M525.5 1.5V4M525.5 208.4V212M525.5 301V299.6M532.4 1.5V4M532.4 208.4V212M532.4 301V299.6M539.4 1.5V6.5M539.4 206V213.5M539.4 301V297.7M546.4 1.5V4M546.4 208.4V212M546.4 301V299.6M553.3 1.5V4M553.3 208.4V212M553.3 301V299.6M560.3 1.5V4M560.3 208.4V212M560.3 301V299.6M567.2 1.5V6.5M567.2 206V213.5M567.2 301V297.7M574.2 1.5V4M574.2 208.4V212M574.2 301V299.6M581.2 1.5V4M581.2 208.4V212M581.2 301V299.6M588.1 1.5V4M588.1 208.4V212M588.1 301V299.6M595.1 1.5V6.5M595.1 206V213.5M595.1 301V297.7M602 1.5V4M602 208.4V212M602 301V299.6M609 1.5V4M609 208.4V212M609 301V299.6M616 1.5V4M616 208.4V212M616 301V299.6M622.9 1.5V6.5M622.9 206V213.5M622.9 301V297.7M629.9 1.5V4M629.9 208.4V212M629.9 301V299.6M636.8 1.5V4M636.8 208.4V212M636.8 301V299.6M643.8 1.5V4M643.8 208.4V212M643.8 301V299.6M650.8 1.5V6.5M650.8 206V213.5M650.8 301V297.7M657.7 1.5V4M657.7 208.4V212M657.7 301V299.6M664.7 1.5V4M664.7 208.4V212M664.7 301V299.6M671.6 1.5V4M671.6 208.4V212M671.6 301V299.6M678.6 1.5V6.5M678.6 206V213.5M678.6 301V297.7M400.2 210H404.7M674.1 210H678.6M400.2 206.7H404.7M674.1 206.7H678.6M400.2 203.7H404.7M674.1 203.7H678.6M400.2 201.1H409.2M669.6 201.1H678.6M400.2 183.8H404.7M674.1 183.8H678.6M400.2 173.7H404.7M674.1 173.7H678.6M400.2 166.5H404.7M674.1 166.5H678.6M400.2 161H404.7M674.1 161H678.6M400.2 156.4H404.7M674.1 156.4H678.6M400.2 152.6H404.7M674.1 152.6H678.6M400.2 149.3H404.7M674.1 149.3H678.6M400.2 146.3H404.7M674.1 146.3H678.6M400.2 143.7H409.2M669.6 143.7H678.6M400.2 126.4H404.7M674.1 126.4H678.6M400.2 116.3H404.7M674.1 116.3H678.6M400.2 109.1H404.7M674.1 109.1H678.6M400.2 103.6H404.7M674.1 103.6H678.6M400.2 99H404.7M674.1 99H678.6M400.2 95.2H404.7M674.1 95.2H678.6M400.2 91.9H404.7M674.1 91.9H678.6M400.2 88.9H404.7M674.1 88.9H678.6M400.2 86.3H409.2M669.6 86.3H678.6M400.2 69H404.7M674.1 69H678.6M400.2 58.9H404.7M674.1 58.9H678.6M400.2 51.7H404.7M674.1 51.7H678.6M400.2 46.2H404.7M674.1 46.2H678.6M400.2 41.6H404.7M674.1 41.6H678.6M400.2 37.8H404.7M674.1 37.8H678.6M400.2 34.5H404.7M674.1 34.5H678.6M400.2 31.5H404.7M674.1 31.5H678.6M400.2 28.9H409.2M669.6 28.9H678.6M400.2 11.6H404.7M674.1 11.6H678.6M400.2 1.5H404.7M674.1 1.5H678.6M400.2 295.9H407.4M671.4 295.9H678.6M400.2 289.2H403.9M674.9 289.2H678.6M400.2 282.5H403.9M674.9 282.5H678.6M400.2 275.7H403.9M674.9 275.7H678.6M400.2 269H403.9M674.9 269H678.6M400.2 262.3H407.4M671.4 262.3H678.6M400.2 255.6H403.9M674.9 255.6H678.6M400.2 248.9H403.9M674.9 248.9H678.6M400.2 242.1H403.9M674.9 242.1H678.6M400.2 235.4H403.9M674.9 235.4H678.6M400.2 228.7H407.4M671.4 228.7H678.6M400.2 222H403.9M674.9 222H678.6M400.2 215.3H403.9M674.9 215.3H678.6" fill="none" stroke="#000" stroke-width="1.2"/>
<text x="384.95" y="32.79" font-size="10.0" textLength="12.00" lengthAdjust="spacingAndGlyphs">10</text>
<text x="392.35" y="90.20" font-size="10.0" textLength="4.60" lengthAdjust="spacingAndGlyphs">1</text>
<text x="379.80" y="147.60" font-size="10.0" textLength="17.85" lengthAdjust="spacingAndGlyphs">10<tspan dy="-3.4" font-size="7">-1</tspan></text>
<text x="379.80" y="205.01" font-size="10.0" textLength="17.85" lengthAdjust="spacingAndGlyphs">10<tspan dy="-3.4" font-size="7">-2</tspan></text>
<text x="383.25" y="232.60" font-size="10.0" textLength="12.90" lengthAdjust="spacingAndGlyphs">1.5</text>
<text x="392.35" y="266.20" font-size="10.0" textLength="4.30" lengthAdjust="spacingAndGlyphs">1</text>
<text x="383.25" y="299.80" font-size="10.0" textLength="12.90" lengthAdjust="spacingAndGlyphs">0.5</text>
<text x="395.70" y="311.60" font-size="10.0" textLength="8.30" lengthAdjust="spacingAndGlyphs">-1</text>
<text x="418.29" y="311.60" font-size="10.0" textLength="18.80" lengthAdjust="spacingAndGlyphs">-0.8</text>
<text x="446.13" y="311.60" font-size="10.0" textLength="18.80" lengthAdjust="spacingAndGlyphs">-0.6</text>
<text x="473.97" y="311.60" font-size="10.0" textLength="18.80" lengthAdjust="spacingAndGlyphs">-0.4</text>
<text x="501.81" y="311.60" font-size="10.0" textLength="18.80" lengthAdjust="spacingAndGlyphs">-0.2</text>
<text x="536.10" y="311.60" font-size="10.0" textLength="6.60" lengthAdjust="spacingAndGlyphs">0</text>
<text x="559.64" y="311.60" font-size="10.0" textLength="15.20" lengthAdjust="spacingAndGlyphs">0.2</text>
<text x="587.48" y="311.60" font-size="10.0" textLength="15.20" lengthAdjust="spacingAndGlyphs">0.4</text>
<text x="615.32" y="311.60" font-size="10.0" textLength="15.20" lengthAdjust="spacingAndGlyphs">0.6</text>
<text x="643.16" y="311.60" font-size="10.0" textLength="15.20" lengthAdjust="spacingAndGlyphs">0.8</text>
<text x="677.25" y="311.60" font-size="10.0" textLength="4.30" lengthAdjust="spacingAndGlyphs">1</text>
<text x="645.50" y="326.30" font-size="11" textLength="33.20" lengthAdjust="spacingAndGlyphs">cos &#981;</text>
<text transform="translate(377.90,93.30) rotate(-90)" font-size="12" textLength="92" lengthAdjust="spacingAndGlyphs">(1/&#963;) d&#931;/d(cos &#981;)</text>
<text transform="translate(378.20,283.80) rotate(-90)" font-size="12.6" textLength="58" lengthAdjust="spacingAndGlyphs">MC / Data</text>
<rect x="420.30" y="218.70" width="17.4" height="8.3" fill="#66cc66" stroke="#000" stroke-width="0.8"/>
<text x="442.70" y="226.00" font-size="9.6" textLength="42.20" lengthAdjust="spacingAndGlyphs">Data stat.</text>
<text x="498.90" y="226.00" font-size="9.6" textLength="42.20" lengthAdjust="spacingAndGlyphs">syst. unc.</text>
<g transform="translate(492.10,222.90)" stroke="#000" stroke-width="0.8"><circle r="3.1" fill="none"/><line x1="-3.1" y1="0" x2="3.1" y2="0"/><line x1="0" y1="-3.1" x2="0" y2="3.1"/></g>
<text x="452.50" y="30.50" font-size="14" textLength="52.50" lengthAdjust="spacingAndGlyphs" font-weight="bold" font-style="italic">ATLAS</text>
<text x="432.90" y="57.90" font-size="10.3" textLength="104.80" lengthAdjust="spacingAndGlyphs" >s = 8 TeV; 20.2 fb<tspan dy="-5.2" font-size="7">-1</tspan></text>
<path d="M427.80,52.60 L429.80,58.30 L431.30,49.10 L438.40,49.10" fill="none" stroke="#000" stroke-width="1.1"/>
<text x="431.00" y="81.60" font-size="10.5" textLength="102.80" lengthAdjust="spacingAndGlyphs" >anti-k<tspan dy="3.2" font-size="7">t</tspan><tspan dy="-3.2"> jets R = 0.4</tspan></text>
<text x="433.50" y="108.70" font-size="10.3" textLength="142.50" lengthAdjust="spacingAndGlyphs" >850 GeV &lt; H<tspan dy="3.9" font-size="7">T2</tspan><tspan dy="-3.9"> &lt; 900 GeV</tspan></text>
<text x="590.00" y="30.65" font-size="10.4" textLength="57.40" lengthAdjust="spacingAndGlyphs" >Data 2012</text>
<text x="590.00" y="50.00" font-size="10.4" textLength="41.40" lengthAdjust="spacingAndGlyphs" >Pythia8</text>
<text x="590.00" y="69.80" font-size="10.4" textLength="52.70" lengthAdjust="spacingAndGlyphs" >Herwig++</text>
<text x="589.70" y="88.50" font-size="10.4" textLength="39.90" lengthAdjust="spacingAndGlyphs" >Sherpa</text>
<ellipse cx="578.70" cy="27.00" rx="3.1" ry="2.9"/>
<line x1="570.10" y1="46.40" x2="587.10" y2="46.40" stroke="#ff0000" stroke-width="1.6" />
<line x1="570.10" y1="65.60" x2="586.70" y2="65.60" stroke="#0000ff" stroke-width="1.7" stroke-dasharray="2 1.44"/>
<line x1="570.10" y1="84.80" x2="587.10" y2="84.80" stroke="#6f3f12" stroke-width="1.6" stroke-dasharray="3.2 1.2 0.9 1.6"/>
<path d="M35 603.4H40.6V606.4H35ZM40.6 603.2H46.1V606.6H40.6ZM46.1 603.1H51.7V606.7H46.1ZM51.7 602.9H57.3V606.9H51.7ZM57.3 602.7H62.8V607.1H57.3ZM62.8 602.6H74V607.2H62.8ZM74 602.5H85.1V607.3H74ZM85.1 602.4H96.2V607.4H85.1ZM96.2 602.3H107.4V607.5H96.2ZM107.4 602.3H124.1V607.5H107.4ZM124.1 602.3H140.8V607.5H124.1ZM140.8 602.3H157.5V607.5H140.8ZM157.5 602.3H174.2V607.5H157.5ZM174.2 602.3H190.8V607.5H174.2ZM190.8 602.3H207.5V607.5H190.8ZM207.5 602.3H224.2V607.5H207.5ZM224.2 602.3H240.9V607.5H224.2ZM240.9 602.3H252.1V607.5H240.9ZM252.1 602.3H263.2V607.5H252.1ZM263.2 602.4H274.3V607.4H263.2ZM274.3 602.5H285.5V607.3H274.3ZM285.5 602.6H291V607.2H285.5ZM291 602.7H296.6V607.1H291ZM296.6 602.9H302.2V606.9H296.6ZM302.2 603.1H307.7V606.7H302.2ZM307.7 603.2H313.3V606.6H307.7Z" fill="#66cc66"/>
<line x1="35.00" y1="604.90" x2="313.30" y2="604.90" stroke="#000" stroke-width="1.5" stroke-dasharray="2.4 3.4" stroke-dashoffset="0.7"/>
<path d="M35 369.6H40.6M40.6 439.9H46.1M46.1 461.9H51.7M51.7 477.7H57.3M57.3 486.9H62.8M62.8 494.8H74M74 507.3H85.1M85.1 510.9H96.2M96.2 515H107.4M107.4 520.3H124.1M124.1 523.3H140.8M140.8 527.1H157.5M157.5 528.9H174.2M174.2 533.2H190.8M190.8 532.3H207.5M207.5 531.3H224.2M224.2 529.4H240.9M240.9 527.9H252.1M252.1 524.5H263.2M263.2 521.3H274.3M274.3 515.9H285.5M285.5 509H291M291 503.4H296.6M296.6 497H302.2M302.2 495H307.7M307.7 366.9H313.3" fill="none" stroke="#6f3f12" stroke-width="1.6" stroke-dasharray="3.2 1.2 0.9 1.6"/>
<path d="M37.8 369V370.2M43.3 438.4V441.4M48.9 460.3V463.7M54.5 476.3V479.2M60 485.1V488.7M68.4 493.1V496.7M79.5 505.7V508.9M90.7 509.1V512.9M101.8 512.3V517.9M115.7 517.8V523M132.4 520.6V526.3M149.1 524.2V530.4M165.8 526V532.2M182.5 531.2V535.5M199.2 530.2V534.6M215.9 529.4V533.4M232.6 527.4V531.4M246.5 526.2V529.8M257.6 522.7V526.3M268.8 519.6V523.2M279.9 514.4V517.6M288.3 507.4V510.6M293.8 502V504.8M299.4 495.6V498.4M305 493.8V496.2M310.5 366.4V367.5" fill="none" stroke="#6f3f12" stroke-width="1.5"/>
<path d="M35 370.1H40.6M40.6 437H46.1M46.1 456.3H51.7M51.7 468.2H57.3M57.3 476.5H62.8M62.8 486.1H74M74 496H85.1M85.1 503.4H96.2M96.2 509.6H107.4M107.4 515.3H124.1M124.1 518.9H140.8M140.8 521.5H157.5M157.5 523.1H174.2M174.2 524.4H190.8M190.8 525.6H207.5M207.5 524.8H224.2M224.2 523.5H240.9M240.9 520.4H252.1M252.1 518.8H263.2M263.2 515.2H274.3M274.3 510H285.5M285.5 504.2H291M291 500H296.6M296.6 493.8H302.2M302.2 491.7H307.7M307.7 367.1H313.3" fill="none" stroke="#0000ff" stroke-width="1.7" stroke-dasharray="2 1.44"/>
<path d="M35 369.6H40.6M40.6 436.8H46.1M46.1 457H51.7M51.7 469.9H57.3M57.3 479.8H62.8M62.8 490.5H74M74 501.9H85.1M85.1 509.6H96.2M96.2 514.6H107.4M107.4 519.7H124.1M124.1 523.5H140.8M140.8 526.3H157.5M157.5 527.8H174.2M174.2 529H190.8M190.8 528.4H207.5M207.5 527.3H224.2M224.2 525.1H240.9M240.9 522.7H252.1M252.1 519.9H263.2M263.2 516.2H274.3M274.3 510H285.5M285.5 504.2H291M291 498.7H296.6M296.6 492.3H302.2M302.2 488.8H307.7M307.7 367.1H313.3" fill="none" stroke="#ff0000" stroke-width="1.6"/>
<path d="M34.7 369.6a3.1 2.9 0 1 0 6.2 0a3.1 2.9 0 1 0 -6.2 0ZM40.2 439a3.1 2.9 0 1 0 6.2 0a3.1 2.9 0 1 0 -6.2 0ZM45.8 459.8a3.1 2.9 0 1 0 6.2 0a3.1 2.9 0 1 0 -6.2 0ZM51.4 473.4a3.1 2.9 0 1 0 6.2 0a3.1 2.9 0 1 0 -6.2 0ZM56.9 482.8a3.1 2.9 0 1 0 6.2 0a3.1 2.9 0 1 0 -6.2 0ZM65.3 492.7a3.1 2.9 0 1 0 6.2 0a3.1 2.9 0 1 0 -6.2 0ZM76.4 503.5a3.1 2.9 0 1 0 6.2 0a3.1 2.9 0 1 0 -6.2 0ZM87.6 510a3.1 2.9 0 1 0 6.2 0a3.1 2.9 0 1 0 -6.2 0ZM98.7 514.7a3.1 2.9 0 1 0 6.2 0a3.1 2.9 0 1 0 -6.2 0ZM112.6 519.3a3.1 2.9 0 1 0 6.2 0a3.1 2.9 0 1 0 -6.2 0ZM129.3 523.9a3.1 2.9 0 1 0 6.2 0a3.1 2.9 0 1 0 -6.2 0ZM146 526.1a3.1 2.9 0 1 0 6.2 0a3.1 2.9 0 1 0 -6.2 0ZM162.7 528a3.1 2.9 0 1 0 6.2 0a3.1 2.9 0 1 0 -6.2 0ZM179.4 529.2a3.1 2.9 0 1 0 6.2 0a3.1 2.9 0 1 0 -6.2 0ZM196.1 530.5a3.1 2.9 0 1 0 6.2 0a3.1 2.9 0 1 0 -6.2 0ZM212.8 529.5a3.1 2.9 0 1 0 6.2 0a3.1 2.9 0 1 0 -6.2 0ZM229.5 528a3.1 2.9 0 1 0 6.2 0a3.1 2.9 0 1 0 -6.2 0ZM243.4 526.1a3.1 2.9 0 1 0 6.2 0a3.1 2.9 0 1 0 -6.2 0ZM254.5 522.8a3.1 2.9 0 1 0 6.2 0a3.1 2.9 0 1 0 -6.2 0ZM265.7 519.7a3.1 2.9 0 1 0 6.2 0a3.1 2.9 0 1 0 -6.2 0ZM276.8 514.1a3.1 2.9 0 1 0 6.2 0a3.1 2.9 0 1 0 -6.2 0ZM285.2 508.3a3.1 2.9 0 1 0 6.2 0a3.1 2.9 0 1 0 -6.2 0ZM290.7 502.7a3.1 2.9 0 1 0 6.2 0a3.1 2.9 0 1 0 -6.2 0ZM296.3 496.4a3.1 2.9 0 1 0 6.2 0a3.1 2.9 0 1 0 -6.2 0ZM301.9 494.8a3.1 2.9 0 1 0 6.2 0a3.1 2.9 0 1 0 -6.2 0ZM307.4 366.9a3.1 2.9 0 1 0 6.2 0a3.1 2.9 0 1 0 -6.2 0Z"/>
<path d="M35 604.9H40.6M40.6 607.2H46.1M46.1 610.3H51.7M51.7 615.6H57.3M57.3 615H62.8M62.8 610.3H74M74 614.2H85.1M85.1 607.4H96.2M96.2 605.6H107.4M107.4 607.4H124.1M124.1 603.2H140.8M140.8 607.6H157.5M157.5 607.3H174.2M174.2 615H190.8M190.8 609.7H207.5M207.5 609.7H224.2M224.2 608.5H240.9M240.9 609.7H252.1M252.1 609.2H263.2M263.2 609.2H274.3M274.3 609.7H285.5M285.5 606.5H291M291 606.5H296.6M296.6 606.5H302.2M302.2 605.3H307.7M307.7 604.9H313.3" fill="none" stroke="#6f3f12" stroke-width="1.6" stroke-dasharray="3.2 1.2 0.9 1.6"/>
<path d="M37.8 603.9V605.9M43.3 604.7V609.7M48.9 607.5V613.1M54.5 613.1V618.1M60 612V618M68.4 607.3V613.3M79.5 611.6V616.9M90.7 604.2V610.6M101.8 600.9V610.3M115.7 603V611.8M132.4 598.4V608M149.1 602.4V612.8M165.8 602.1V612.5M182.5 611.4V618.6M199.2 606V613.3M215.9 606.3V613M232.6 605.2V611.9M246.5 606.6V612.7M257.6 606.2V612.2M268.8 606.2V612.2M279.9 607V612.4M288.3 603.8V609.2M293.8 604.2V608.9M299.4 604.2V608.9M305 603.3V607.3M310.5 603.9V605.9" fill="none" stroke="#6f3f12" stroke-width="1.6"/>
<path d="M35 606.2H40.6M40.6 599.2H46.1M46.1 594.5H51.7M51.7 589.5H57.3M57.3 585.5H62.8M62.8 584.6H74M74 581.3H85.1M85.1 584.8H96.2M96.2 589.8H107.4M107.4 593.1H124.1M124.1 589.9H140.8M140.8 591.5H157.5M157.5 590.3H174.2M174.2 590.8H190.8M190.8 590.3H207.5M207.5 591H224.2M224.2 591.6H240.9M240.9 587.9H252.1M252.1 593.1H263.2M263.2 591.5H274.3M274.3 592.8H285.5M285.5 592.8H291M291 597.1H296.6M296.6 597.6H302.2M302.2 596H307.7M307.7 605.3H313.3" fill="none" stroke="#0000ff" stroke-width="1.7" stroke-dasharray="2 1.44"/>
<path d="M37.8 604l2.2 2.2l-2.2 2.2l-2.2 -2.2ZM43.3 597l2.2 2.2l-2.2 2.2l-2.2 -2.2ZM48.9 592.3l2.2 2.2l-2.2 2.2l-2.2 -2.2ZM54.5 587.3l2.2 2.2l-2.2 2.2l-2.2 -2.2ZM60 583.3l2.2 2.2l-2.2 2.2l-2.2 -2.2ZM68.4 582.4l2.2 2.2l-2.2 2.2l-2.2 -2.2ZM79.5 579.1l2.2 2.2l-2.2 2.2l-2.2 -2.2ZM90.7 582.6l2.2 2.2l-2.2 2.2l-2.2 -2.2ZM101.8 587.6l2.2 2.2l-2.2 2.2l-2.2 -2.2ZM115.7 590.9l2.2 2.2l-2.2 2.2l-2.2 -2.2ZM132.4 587.7l2.2 2.2l-2.2 2.2l-2.2 -2.2ZM149.1 589.3l2.2 2.2l-2.2 2.2l-2.2 -2.2ZM165.8 588.1l2.2 2.2l-2.2 2.2l-2.2 -2.2ZM182.5 588.6l2.2 2.2l-2.2 2.2l-2.2 -2.2ZM199.2 588.1l2.2 2.2l-2.2 2.2l-2.2 -2.2ZM215.9 588.8l2.2 2.2l-2.2 2.2l-2.2 -2.2ZM232.6 589.4l2.2 2.2l-2.2 2.2l-2.2 -2.2ZM246.5 585.7l2.2 2.2l-2.2 2.2l-2.2 -2.2ZM257.6 590.9l2.2 2.2l-2.2 2.2l-2.2 -2.2ZM268.8 589.3l2.2 2.2l-2.2 2.2l-2.2 -2.2ZM279.9 590.6l2.2 2.2l-2.2 2.2l-2.2 -2.2ZM288.3 590.6l2.2 2.2l-2.2 2.2l-2.2 -2.2ZM293.8 594.9l2.2 2.2l-2.2 2.2l-2.2 -2.2ZM299.4 595.4l2.2 2.2l-2.2 2.2l-2.2 -2.2ZM305 593.8l2.2 2.2l-2.2 2.2l-2.2 -2.2ZM310.5 603.1l2.2 2.2l-2.2 2.2l-2.2 -2.2Z" fill="#0000ff"/>
<path d="M35 605.1H40.6M40.6 598.8H46.1M46.1 596.9H51.7M51.7 594.8H57.3M57.3 596.3H62.8M62.8 598.6H74M74 600.4H85.1M85.1 603.9H96.2M96.2 604.5H107.4M107.4 605.9H124.1M124.1 603.7H140.8M140.8 605.6H157.5M157.5 604.4H174.2M174.2 604.4H190.8M190.8 599.2H207.5M207.5 598.9H224.2M224.2 596.8H240.9M240.9 595.2H252.1M252.1 596.5H263.2M263.2 594.7H274.3M274.3 592.8H285.5M285.5 592.8H291M291 593.1H296.6M296.6 592.8H302.2M302.2 586.8H307.7M307.7 605.3H313.3" fill="none" stroke="#ff0000" stroke-width="1.6"/>
<path d="M36.4 605.1a1.4 1.4 0 1 0 2.8 0a1.4 1.4 0 1 0 -2.8 0ZM41.9 598.8a1.4 1.4 0 1 0 2.8 0a1.4 1.4 0 1 0 -2.8 0ZM47.5 596.9a1.4 1.4 0 1 0 2.8 0a1.4 1.4 0 1 0 -2.8 0ZM53.1 594.8a1.4 1.4 0 1 0 2.8 0a1.4 1.4 0 1 0 -2.8 0ZM58.6 596.3a1.4 1.4 0 1 0 2.8 0a1.4 1.4 0 1 0 -2.8 0ZM67 598.6a1.4 1.4 0 1 0 2.8 0a1.4 1.4 0 1 0 -2.8 0ZM78.1 600.4a1.4 1.4 0 1 0 2.8 0a1.4 1.4 0 1 0 -2.8 0ZM89.3 603.9a1.4 1.4 0 1 0 2.8 0a1.4 1.4 0 1 0 -2.8 0ZM100.4 604.5a1.4 1.4 0 1 0 2.8 0a1.4 1.4 0 1 0 -2.8 0ZM114.3 605.9a1.4 1.4 0 1 0 2.8 0a1.4 1.4 0 1 0 -2.8 0ZM131 603.7a1.4 1.4 0 1 0 2.8 0a1.4 1.4 0 1 0 -2.8 0ZM147.7 605.6a1.4 1.4 0 1 0 2.8 0a1.4 1.4 0 1 0 -2.8 0ZM164.4 604.4a1.4 1.4 0 1 0 2.8 0a1.4 1.4 0 1 0 -2.8 0ZM181.1 604.4a1.4 1.4 0 1 0 2.8 0a1.4 1.4 0 1 0 -2.8 0ZM197.8 599.2a1.4 1.4 0 1 0 2.8 0a1.4 1.4 0 1 0 -2.8 0ZM214.5 598.9a1.4 1.4 0 1 0 2.8 0a1.4 1.4 0 1 0 -2.8 0ZM231.2 596.8a1.4 1.4 0 1 0 2.8 0a1.4 1.4 0 1 0 -2.8 0ZM245.1 595.2a1.4 1.4 0 1 0 2.8 0a1.4 1.4 0 1 0 -2.8 0ZM256.2 596.5a1.4 1.4 0 1 0 2.8 0a1.4 1.4 0 1 0 -2.8 0ZM267.4 594.7a1.4 1.4 0 1 0 2.8 0a1.4 1.4 0 1 0 -2.8 0ZM278.5 592.8a1.4 1.4 0 1 0 2.8 0a1.4 1.4 0 1 0 -2.8 0ZM286.9 592.8a1.4 1.4 0 1 0 2.8 0a1.4 1.4 0 1 0 -2.8 0ZM292.4 593.1a1.4 1.4 0 1 0 2.8 0a1.4 1.4 0 1 0 -2.8 0ZM298 592.8a1.4 1.4 0 1 0 2.8 0a1.4 1.4 0 1 0 -2.8 0ZM303.6 586.8a1.4 1.4 0 1 0 2.8 0a1.4 1.4 0 1 0 -2.8 0ZM309.1 605.3a1.4 1.4 0 1 0 2.8 0a1.4 1.4 0 1 0 -2.8 0Z" fill="#ff0000"/>
<path d="M35 344.1H313.3V643.6H35ZM35 552.6H313.3" fill="none" stroke="#000" stroke-width="1.3"/>
<path d="M35 344.1V349.1M35 548.6V556.1M35 643.6V640.3M42 344.1V346.6M42 551V554.6M42 643.6V642.2M48.9 344.1V346.6M48.9 551V554.6M48.9 643.6V642.2M55.9 344.1V346.6M55.9 551V554.6M55.9 643.6V642.2M62.8 344.1V349.1M62.8 548.6V556.1M62.8 643.6V640.3M69.8 344.1V346.6M69.8 551V554.6M69.8 643.6V642.2M76.7 344.1V346.6M76.7 551V554.6M76.7 643.6V642.2M83.7 344.1V346.6M83.7 551V554.6M83.7 643.6V642.2M90.7 344.1V349.1M90.7 548.6V556.1M90.7 643.6V640.3M97.6 344.1V346.6M97.6 551V554.6M97.6 643.6V642.2M104.6 344.1V346.6M104.6 551V554.6M104.6 643.6V642.2M111.5 344.1V346.6M111.5 551V554.6M111.5 643.6V642.2M118.5 344.1V349.1M118.5 548.6V556.1M118.5 643.6V640.3M125.4 344.1V346.6M125.4 551V554.6M125.4 643.6V642.2M132.4 344.1V346.6M132.4 551V554.6M132.4 643.6V642.2M139.4 344.1V346.6M139.4 551V554.6M139.4 643.6V642.2M146.3 344.1V349.1M146.3 548.6V556.1M146.3 643.6V640.3M153.3 344.1V346.6M153.3 551V554.6M153.3 643.6V642.2M160.2 344.1V346.6M160.2 551V554.6M160.2 643.6V642.2M167.2 344.1V346.6M167.2 551V554.6M167.2 643.6V642.2M174.2 344.1V349.1M174.2 548.6V556.1M174.2 643.6V640.3M181.1 344.1V346.6M181.1 551V554.6M181.1 643.6V642.2M188.1 344.1V346.6M188.1 551V554.6M188.1 643.6V642.2M195 344.1V346.6M195 551V554.6M195 643.6V642.2M202 344.1V349.1M202 548.6V556.1M202 643.6V640.3M208.9 344.1V346.6M208.9 551V554.6M208.9 643.6V642.2M215.9 344.1V346.6M215.9 551V554.6M215.9 643.6V642.2M222.9 344.1V346.6M222.9 551V554.6M222.9 643.6V642.2M229.8 344.1V349.1M229.8 548.6V556.1M229.8 643.6V640.3M236.8 344.1V346.6M236.8 551V554.6M236.8 643.6V642.2M243.7 344.1V346.6M243.7 551V554.6M243.7 643.6V642.2M250.7 344.1V346.6M250.7 551V554.6M250.7 643.6V642.2M257.6 344.1V349.1M257.6 548.6V556.1M257.6 643.6V640.3M264.6 344.1V346.6M264.6 551V554.6M264.6 643.6V642.2M271.6 344.1V346.6M271.6 551V554.6M271.6 643.6V642.2M278.5 344.1V346.6M278.5 551V554.6M278.5 643.6V642.2M285.5 344.1V349.1M285.5 548.6V556.1M285.5 643.6V640.3M292.4 344.1V346.6M292.4 551V554.6M292.4 643.6V642.2M299.4 344.1V346.6M299.4 551V554.6M299.4 643.6V642.2M306.3 344.1V346.6M306.3 551V554.6M306.3 643.6V642.2M313.3 344.1V349.1M313.3 548.6V556.1M313.3 643.6V640.3M35 552.6H39.5M308.8 552.6H313.3M35 549.3H39.5M308.8 549.3H313.3M35 546.3H39.5M308.8 546.3H313.3M35 543.7H44M304.3 543.7H313.3M35 526.4H39.5M308.8 526.4H313.3M35 516.3H39.5M308.8 516.3H313.3M35 509.1H39.5M308.8 509.1H313.3M35 503.6H39.5M308.8 503.6H313.3M35 499H39.5M308.8 499H313.3M35 495.2H39.5M308.8 495.2H313.3M35 491.9H39.5M308.8 491.9H313.3M35 488.9H39.5M308.8 488.9H313.3M35 486.3H44M304.3 486.3H313.3M35 469H39.5M308.8 469H313.3M35 458.9H39.5M308.8 458.9H313.3M35 451.7H39.5M308.8 451.7H313.3M35 446.2H39.5M308.8 446.2H313.3M35 441.6H39.5M308.8 441.6H313.3M35 437.8H39.5M308.8 437.8H313.3M35 434.5H39.5M308.8 434.5H313.3M35 431.5H39.5M308.8 431.5H313.3M35 428.9H44M304.3 428.9H313.3M35 411.6H39.5M308.8 411.6H313.3M35 401.5H39.5M308.8 401.5H313.3M35 394.3H39.5M308.8 394.3H313.3M35 388.8H39.5M308.8 388.8H313.3M35 384.2H39.5M308.8 384.2H313.3M35 380.4H39.5M308.8 380.4H313.3M35 377.1H39.5M308.8 377.1H313.3M35 374.1H39.5M308.8 374.1H313.3M35 371.5H44M304.3 371.5H313.3M35 354.2H39.5M308.8 354.2H313.3M35 344.1H39.5M308.8 344.1H313.3M35 638.5H42.2M306.1 638.5H313.3M35 631.8H38.7M309.6 631.8H313.3M35 625.1H38.7M309.6 625.1H313.3M35 618.3H38.7M309.6 618.3H313.3M35 611.6H38.7M309.6 611.6H313.3M35 604.9H42.2M306.1 604.9H313.3M35 598.2H38.7M309.6 598.2H313.3M35 591.5H38.7M309.6 591.5H313.3M35 584.7H38.7M309.6 584.7H313.3M35 578H38.7M309.6 578H313.3M35 571.3H42.2M306.1 571.3H313.3M35 564.6H38.7M309.6 564.6H313.3M35 557.9H38.7M309.6 557.9H313.3" fill="none" stroke="#000" stroke-width="1.2"/>
<text x="19.75" y="375.39" font-size="10.0" textLength="12.00" lengthAdjust="spacingAndGlyphs">10</text>
<text x="27.15" y="432.80" font-size="10.0" textLength="4.60" lengthAdjust="spacingAndGlyphs">1</text>
<text x="14.60" y="490.20" font-size="10.0" textLength="17.85" lengthAdjust="spacingAndGlyphs">10<tspan dy="-3.4" font-size="7">-1</tspan></text>
<text x="14.60" y="547.61" font-size="10.0" textLength="17.85" lengthAdjust="spacingAndGlyphs">10<tspan dy="-3.4" font-size="7">-2</tspan></text>
<text x="18.05" y="575.20" font-size="10.0" textLength="12.90" lengthAdjust="spacingAndGlyphs">1.5</text>
<text x="27.15" y="608.80" font-size="10.0" textLength="4.30" lengthAdjust="spacingAndGlyphs">1</text>
<text x="18.05" y="642.40" font-size="10.0" textLength="12.90" lengthAdjust="spacingAndGlyphs">0.5</text>
<text x="30.50" y="654.20" font-size="10.0" textLength="8.30" lengthAdjust="spacingAndGlyphs">-1</text>
<text x="53.08" y="654.20" font-size="10.0" textLength="18.80" lengthAdjust="spacingAndGlyphs">-0.8</text>
<text x="80.91" y="654.20" font-size="10.0" textLength="18.80" lengthAdjust="spacingAndGlyphs">-0.6</text>
<text x="108.74" y="654.20" font-size="10.0" textLength="18.80" lengthAdjust="spacingAndGlyphs">-0.4</text>
<text x="136.57" y="654.20" font-size="10.0" textLength="18.80" lengthAdjust="spacingAndGlyphs">-0.2</text>
<text x="170.85" y="654.20" font-size="10.0" textLength="6.60" lengthAdjust="spacingAndGlyphs">0</text>
<text x="194.38" y="654.20" font-size="10.0" textLength="15.20" lengthAdjust="spacingAndGlyphs">0.2</text>
<text x="222.21" y="654.20" font-size="10.0" textLength="15.20" lengthAdjust="spacingAndGlyphs">0.4</text>
<text x="250.04" y="654.20" font-size="10.0" textLength="15.20" lengthAdjust="spacingAndGlyphs">0.6</text>
<text x="277.87" y="654.20" font-size="10.0" textLength="15.20" lengthAdjust="spacingAndGlyphs">0.8</text>
<text x="311.95" y="654.20" font-size="10.0" textLength="4.30" lengthAdjust="spacingAndGlyphs">1</text>
<text x="280.30" y="668.90" font-size="11" textLength="33.20" lengthAdjust="spacingAndGlyphs">cos &#981;</text>
<text transform="translate(12.70,435.90) rotate(-90)" font-size="12" textLength="92" lengthAdjust="spacingAndGlyphs">(1/&#963;) d&#931;/d(cos &#981;)</text>
<text transform="translate(13.00,626.40) rotate(-90)" font-size="12.6" textLength="58" lengthAdjust="spacingAndGlyphs">MC / Data</text>
<rect x="55.10" y="561.30" width="17.4" height="8.3" fill="#66cc66" stroke="#000" stroke-width="0.8"/>
<text x="77.50" y="568.60" font-size="9.6" textLength="42.20" lengthAdjust="spacingAndGlyphs">Data stat.</text>
<text x="133.70" y="568.60" font-size="9.6" textLength="42.20" lengthAdjust="spacingAndGlyphs">syst. unc.</text>
<g transform="translate(126.90,565.50)" stroke="#000" stroke-width="0.8"><circle r="3.1" fill="none"/><line x1="-3.1" y1="0" x2="3.1" y2="0"/><line x1="0" y1="-3.1" x2="0" y2="3.1"/></g>
<text x="87.30" y="373.10" font-size="14" textLength="52.50" lengthAdjust="spacingAndGlyphs" font-weight="bold" font-style="italic">ATLAS</text>
<text x="67.70" y="400.50" font-size="10.3" textLength="104.80" lengthAdjust="spacingAndGlyphs" >s = 8 TeV; 20.2 fb<tspan dy="-5.2" font-size="7">-1</tspan></text>
<path d="M62.60,395.20 L64.60,400.90 L66.10,391.70 L73.20,391.70" fill="none" stroke="#000" stroke-width="1.1"/>
<text x="65.80" y="424.20" font-size="10.5" textLength="102.80" lengthAdjust="spacingAndGlyphs" >anti-k<tspan dy="3.2" font-size="7">t</tspan><tspan dy="-3.2"> jets R = 0.4</tspan></text>
<text x="67.40" y="451.30" font-size="10.3" textLength="150.40" lengthAdjust="spacingAndGlyphs" >900 GeV &lt; H<tspan dy="3.9" font-size="7">T2</tspan><tspan dy="-3.9"> &lt; 1000 GeV</tspan></text>
<text x="224.80" y="373.25" font-size="10.4" textLength="57.40" lengthAdjust="spacingAndGlyphs" >Data 2012</text>
<text x="224.80" y="392.60" font-size="10.4" textLength="41.40" lengthAdjust="spacingAndGlyphs" >Pythia8</text>
<text x="224.80" y="412.40" font-size="10.4" textLength="52.70" lengthAdjust="spacingAndGlyphs" >Herwig++</text>
<text x="224.50" y="431.10" font-size="10.4" textLength="39.90" lengthAdjust="spacingAndGlyphs" >Sherpa</text>
<ellipse cx="213.50" cy="369.60" rx="3.1" ry="2.9"/>
<line x1="204.90" y1="389.00" x2="221.90" y2="389.00" stroke="#ff0000" stroke-width="1.6" />
<line x1="204.90" y1="408.20" x2="221.50" y2="408.20" stroke="#0000ff" stroke-width="1.7" stroke-dasharray="2 1.44"/>
<line x1="204.90" y1="427.40" x2="221.90" y2="427.40" stroke="#6f3f12" stroke-width="1.6" stroke-dasharray="3.2 1.2 0.9 1.6"/>
<path d="M400.2 603.8H405.8V606H400.2ZM405.8 603.7H411.3V606.1H405.8ZM411.3 603.5H416.9V606.3H411.3ZM416.9 603.3H422.5V606.5H416.9ZM422.5 603.2H428V606.6H422.5ZM428 603H439.2V606.8H428ZM439.2 602.9H450.3V606.9H439.2ZM450.3 602.8H461.4V607H450.3ZM461.4 602.7H472.6V607.1H461.4ZM472.6 602.7H489.3V607.1H472.6ZM489.3 602.7H506V607.1H489.3ZM506 602.7H522.7V607.1H506ZM522.7 602.7H539.4V607.1H522.7ZM539.4 602.7H556.1V607.1H539.4ZM556.1 602.7H572.8V607.1H556.1ZM572.8 602.7H589.5V607.1H572.8ZM589.5 602.7H606.2V607.1H589.5ZM606.2 602.7H617.4V607.1H606.2ZM617.4 602.7H628.5V607.1H617.4ZM628.5 602.8H639.6V607H628.5ZM639.6 602.9H650.8V606.9H639.6ZM650.8 603H656.3V606.8H650.8ZM656.3 603.2H661.9V606.6H656.3ZM661.9 603.3H667.5V606.5H661.9ZM667.5 603.5H673V606.3H667.5ZM673 603.7H678.6V606.1H673Z" fill="#66cc66"/>
<line x1="400.20" y1="604.90" x2="678.60" y2="604.90" stroke="#000" stroke-width="1.5" stroke-dasharray="2.4 3.4" stroke-dashoffset="0.7"/>
<path d="M400.2 369.6H405.8M405.8 443H411.3M411.3 463.1H416.9M416.9 476.2H422.5M422.5 486.7H428M428 497.4H439.2M439.2 506.3H450.3M450.3 513.5H461.4M461.4 518.3H472.6M472.6 523H489.3M489.3 526.9H506M506 528.5H522.7M522.7 530.9H539.4M539.4 532.3H556.1M556.1 532.7H572.8M572.8 531.4H589.5M589.5 529.4H606.2M606.2 527.8H617.4M617.4 524.6H628.5M628.5 519.8H639.6M639.6 513.5H650.8M650.8 506.7H656.3M656.3 501.6H661.9M661.9 495.3H667.5M667.5 493.5H673M673 366.9H678.6" fill="none" stroke="#6f3f12" stroke-width="1.6" stroke-dasharray="3.2 1.2 0.9 1.6"/>
<path d="M403 369.2V370M408.6 442.2V443.8M414.1 462.3V463.9M419.7 475.4V477M425.3 485.9V487.5M433.6 496.6V498.2M444.7 505.5V507.1M455.9 512.7V514.3M467 517.5V519.1M480.9 522.2V523.8M497.6 526.1V527.7M514.3 527.7V529.3M531 530.1V531.7M547.8 531.5V533.1M564.5 531.9V533.5M581.2 530.6V532.2M597.9 528.6V530.2M611.8 527V528.6M622.9 523.8V525.4M634.1 519.1V520.7M645.2 512.7V514.3M653.5 505.9V507.5M659.1 500.8V502.4M664.7 494.6V496.2M670.2 492.7V494.3M675.8 366.5V367.3" fill="none" stroke="#6f3f12" stroke-width="1.5"/>
<path d="M400.2 370.1H405.8M405.8 438.6H411.3M411.3 457.1H416.9M416.9 468.6H422.5M422.5 478.5H428M428 487.1H439.2M439.2 497.5H450.3M450.3 504.6H461.4M461.4 511.3H472.6M472.6 515.4H489.3M489.3 518H506M506 521.5H522.7M522.7 523.1H539.4M539.4 525.2H556.1M556.1 525.3H572.8M572.8 523.7H589.5M589.5 522.8H606.2M606.2 520.7H617.4M617.4 518.2H628.5M628.5 514.7H639.6M639.6 509.2H650.8M650.8 504.1H656.3M656.3 499.2H661.9M661.9 493.1H667.5M667.5 491.4H673M673 367H678.6" fill="none" stroke="#0000ff" stroke-width="1.7" stroke-dasharray="2 1.44"/>
<path d="M400.2 369.5H405.8M405.8 438.3H411.3M411.3 458.3H416.9M416.9 471.3H422.5M422.5 481.3H428M428 491.9H439.2M439.2 502.7H450.3M450.3 510.2H461.4M461.4 515.3H472.6M472.6 519.7H489.3M489.3 523.6H506M506 525.8H522.7M522.7 527.1H539.4M539.4 528.9H556.1M556.1 528.8H572.8M572.8 527.5H589.5M589.5 525.1H606.2M606.2 523.6H617.4M617.4 520H628.5M628.5 515.7H639.6M639.6 510H650.8M650.8 503.2H656.3M656.3 497.6H661.9M661.9 491.7H667.5M667.5 488.4H673M673 366.9H678.6" fill="none" stroke="#ff0000" stroke-width="1.6"/>
<path d="M399.9 369.6a3.1 2.9 0 1 0 6.2 0a3.1 2.9 0 1 0 -6.2 0ZM405.5 441.1a3.1 2.9 0 1 0 6.2 0a3.1 2.9 0 1 0 -6.2 0ZM411 461.1a3.1 2.9 0 1 0 6.2 0a3.1 2.9 0 1 0 -6.2 0ZM416.6 474.6a3.1 2.9 0 1 0 6.2 0a3.1 2.9 0 1 0 -6.2 0ZM422.2 484.4a3.1 2.9 0 1 0 6.2 0a3.1 2.9 0 1 0 -6.2 0ZM430.5 494.4a3.1 2.9 0 1 0 6.2 0a3.1 2.9 0 1 0 -6.2 0ZM441.6 504.1a3.1 2.9 0 1 0 6.2 0a3.1 2.9 0 1 0 -6.2 0ZM452.8 510.4a3.1 2.9 0 1 0 6.2 0a3.1 2.9 0 1 0 -6.2 0ZM463.9 515.1a3.1 2.9 0 1 0 6.2 0a3.1 2.9 0 1 0 -6.2 0ZM477.8 519.3a3.1 2.9 0 1 0 6.2 0a3.1 2.9 0 1 0 -6.2 0ZM494.5 523.5a3.1 2.9 0 1 0 6.2 0a3.1 2.9 0 1 0 -6.2 0ZM511.2 526.4a3.1 2.9 0 1 0 6.2 0a3.1 2.9 0 1 0 -6.2 0ZM527.9 527.6a3.1 2.9 0 1 0 6.2 0a3.1 2.9 0 1 0 -6.2 0ZM544.7 529.5a3.1 2.9 0 1 0 6.2 0a3.1 2.9 0 1 0 -6.2 0ZM561.4 530.2a3.1 2.9 0 1 0 6.2 0a3.1 2.9 0 1 0 -6.2 0ZM578.1 529.5a3.1 2.9 0 1 0 6.2 0a3.1 2.9 0 1 0 -6.2 0ZM594.8 527.6a3.1 2.9 0 1 0 6.2 0a3.1 2.9 0 1 0 -6.2 0ZM608.7 526.1a3.1 2.9 0 1 0 6.2 0a3.1 2.9 0 1 0 -6.2 0ZM619.8 523.1a3.1 2.9 0 1 0 6.2 0a3.1 2.9 0 1 0 -6.2 0ZM631 519.7a3.1 2.9 0 1 0 6.2 0a3.1 2.9 0 1 0 -6.2 0ZM642.1 513.5a3.1 2.9 0 1 0 6.2 0a3.1 2.9 0 1 0 -6.2 0ZM650.4 507.8a3.1 2.9 0 1 0 6.2 0a3.1 2.9 0 1 0 -6.2 0ZM656 502a3.1 2.9 0 1 0 6.2 0a3.1 2.9 0 1 0 -6.2 0ZM661.6 495.8a3.1 2.9 0 1 0 6.2 0a3.1 2.9 0 1 0 -6.2 0ZM667.1 494.4a3.1 2.9 0 1 0 6.2 0a3.1 2.9 0 1 0 -6.2 0ZM672.7 366.9a3.1 2.9 0 1 0 6.2 0a3.1 2.9 0 1 0 -6.2 0Z"/>
<path d="M400.2 604.9H405.8M405.8 609.7H411.3M411.3 610.1H416.9M416.9 609.2H422.5M422.5 610.9H428M428 612.4H439.2M439.2 610.6H450.3M450.3 612.7H461.4M461.4 613H472.6M472.6 614.1H489.3M489.3 613.4H506M506 610.2H522.7M522.7 613.2H539.4M539.4 612.1H556.1M556.1 611.3H572.8M572.8 609.9H589.5M589.5 609.7H606.2M606.2 609.4H617.4M617.4 608.9H628.5M628.5 605.3H639.6M639.6 604.9H650.8M650.8 602.1H656.3M656.3 603.7H661.9M661.9 603.6H667.5M667.5 602.6H673M673 604.9H678.6" fill="none" stroke="#6f3f12" stroke-width="1.6" stroke-dasharray="3.2 1.2 0.9 1.6"/>
<path d="M403 604.2V605.6M408.6 608.3V611M414.1 608.7V611.4M419.7 607.9V610.5M425.3 609.6V612.3M433.6 611.1V613.8M444.7 609.3V612M455.9 611.4V614M467 611.7V614.4M480.9 612.8V615.5M497.6 612.1V614.8M514.3 608.9V611.6M531 611.9V614.6M547.8 610.7V613.4M564.5 609.9V612.6M581.2 608.6V611.3M597.9 608.3V611M611.8 608.1V610.7M622.9 607.6V610.3M634.1 604V606.6M645.2 603.6V606.2M653.5 600.7V603.4M659.1 602.3V605M664.7 602.2V604.9M670.2 601.3V604M675.8 604.2V605.6" fill="none" stroke="#6f3f12" stroke-width="1.6"/>
<path d="M400.2 606.2H405.8M405.8 597.7H411.3M411.3 593.3H416.9M416.9 586.7H422.5M422.5 586.9H428M428 582H439.2M439.2 584.6H450.3M450.3 587.3H461.4M461.4 593.7H472.6M472.6 593.3H489.3M489.3 588.3H506M506 590.3H522.7M522.7 591.6H539.4M539.4 592.4H556.1M556.1 590.3H572.8M572.8 587.4H589.5M589.5 590.7H606.2M606.2 588.8H617.4M617.4 590.4H628.5M628.5 589.9H639.6M639.6 592.3H650.8M650.8 594.2H656.3M656.3 596.7H661.9M661.9 597.1H667.5M667.5 596.4H673M673 605H678.6" fill="none" stroke="#0000ff" stroke-width="1.7" stroke-dasharray="2 1.44"/>
<path d="M403 604l2.2 2.2l-2.2 2.2l-2.2 -2.2ZM408.6 595.5l2.2 2.2l-2.2 2.2l-2.2 -2.2ZM414.1 591.1l2.2 2.2l-2.2 2.2l-2.2 -2.2ZM419.7 584.5l2.2 2.2l-2.2 2.2l-2.2 -2.2ZM425.3 584.7l2.2 2.2l-2.2 2.2l-2.2 -2.2ZM433.6 579.8l2.2 2.2l-2.2 2.2l-2.2 -2.2ZM444.7 582.4l2.2 2.2l-2.2 2.2l-2.2 -2.2ZM455.9 585.1l2.2 2.2l-2.2 2.2l-2.2 -2.2ZM467 591.5l2.2 2.2l-2.2 2.2l-2.2 -2.2ZM480.9 591.1l2.2 2.2l-2.2 2.2l-2.2 -2.2ZM497.6 586.1l2.2 2.2l-2.2 2.2l-2.2 -2.2ZM514.3 588.1l2.2 2.2l-2.2 2.2l-2.2 -2.2ZM531 589.4l2.2 2.2l-2.2 2.2l-2.2 -2.2ZM547.8 590.2l2.2 2.2l-2.2 2.2l-2.2 -2.2ZM564.5 588.1l2.2 2.2l-2.2 2.2l-2.2 -2.2ZM581.2 585.2l2.2 2.2l-2.2 2.2l-2.2 -2.2ZM597.9 588.5l2.2 2.2l-2.2 2.2l-2.2 -2.2ZM611.8 586.6l2.2 2.2l-2.2 2.2l-2.2 -2.2ZM622.9 588.2l2.2 2.2l-2.2 2.2l-2.2 -2.2ZM634.1 587.7l2.2 2.2l-2.2 2.2l-2.2 -2.2ZM645.2 590.1l2.2 2.2l-2.2 2.2l-2.2 -2.2ZM653.5 592l2.2 2.2l-2.2 2.2l-2.2 -2.2ZM659.1 594.5l2.2 2.2l-2.2 2.2l-2.2 -2.2ZM664.7 594.9l2.2 2.2l-2.2 2.2l-2.2 -2.2ZM670.2 594.2l2.2 2.2l-2.2 2.2l-2.2 -2.2ZM675.8 602.8l2.2 2.2l-2.2 2.2l-2.2 -2.2Z" fill="#0000ff"/>
<path d="M400.2 604.7H405.8M405.8 596.9H411.3M411.3 596.9H416.9M416.9 595.3H422.5M422.5 596H428M428 597.8H439.2M439.2 601H450.3M450.3 604.2H461.4M461.4 605.4H472.6M472.6 605.8H489.3M489.3 605.3H506M506 603.2H522.7M522.7 603.7H539.4M539.4 603.2H556.1M556.1 601.1H572.8M572.8 599.3H589.5M589.5 597.9H606.2M606.2 597.9H617.4M617.4 596.3H628.5M628.5 593.1H639.6M639.6 594.7H650.8M650.8 591.5H656.3M656.3 591.8H661.9M661.9 592.6H667.5M667.5 586.8H673M673 604.9H678.6" fill="none" stroke="#ff0000" stroke-width="1.6"/>
<path d="M401.6 604.7a1.4 1.4 0 1 0 2.8 0a1.4 1.4 0 1 0 -2.8 0ZM407.2 596.9a1.4 1.4 0 1 0 2.8 0a1.4 1.4 0 1 0 -2.8 0ZM412.7 596.9a1.4 1.4 0 1 0 2.8 0a1.4 1.4 0 1 0 -2.8 0ZM418.3 595.3a1.4 1.4 0 1 0 2.8 0a1.4 1.4 0 1 0 -2.8 0ZM423.9 596a1.4 1.4 0 1 0 2.8 0a1.4 1.4 0 1 0 -2.8 0ZM432.2 597.8a1.4 1.4 0 1 0 2.8 0a1.4 1.4 0 1 0 -2.8 0ZM443.3 601a1.4 1.4 0 1 0 2.8 0a1.4 1.4 0 1 0 -2.8 0ZM454.5 604.2a1.4 1.4 0 1 0 2.8 0a1.4 1.4 0 1 0 -2.8 0ZM465.6 605.4a1.4 1.4 0 1 0 2.8 0a1.4 1.4 0 1 0 -2.8 0ZM479.5 605.8a1.4 1.4 0 1 0 2.8 0a1.4 1.4 0 1 0 -2.8 0ZM496.2 605.3a1.4 1.4 0 1 0 2.8 0a1.4 1.4 0 1 0 -2.8 0ZM512.9 603.2a1.4 1.4 0 1 0 2.8 0a1.4 1.4 0 1 0 -2.8 0ZM529.6 603.7a1.4 1.4 0 1 0 2.8 0a1.4 1.4 0 1 0 -2.8 0ZM546.4 603.2a1.4 1.4 0 1 0 2.8 0a1.4 1.4 0 1 0 -2.8 0ZM563.1 601.1a1.4 1.4 0 1 0 2.8 0a1.4 1.4 0 1 0 -2.8 0ZM579.8 599.3a1.4 1.4 0 1 0 2.8 0a1.4 1.4 0 1 0 -2.8 0ZM596.5 597.9a1.4 1.4 0 1 0 2.8 0a1.4 1.4 0 1 0 -2.8 0ZM610.4 597.9a1.4 1.4 0 1 0 2.8 0a1.4 1.4 0 1 0 -2.8 0ZM621.5 596.3a1.4 1.4 0 1 0 2.8 0a1.4 1.4 0 1 0 -2.8 0ZM632.7 593.1a1.4 1.4 0 1 0 2.8 0a1.4 1.4 0 1 0 -2.8 0ZM643.8 594.7a1.4 1.4 0 1 0 2.8 0a1.4 1.4 0 1 0 -2.8 0ZM652.1 591.5a1.4 1.4 0 1 0 2.8 0a1.4 1.4 0 1 0 -2.8 0ZM657.7 591.8a1.4 1.4 0 1 0 2.8 0a1.4 1.4 0 1 0 -2.8 0ZM663.3 592.6a1.4 1.4 0 1 0 2.8 0a1.4 1.4 0 1 0 -2.8 0ZM668.8 586.8a1.4 1.4 0 1 0 2.8 0a1.4 1.4 0 1 0 -2.8 0ZM674.4 604.9a1.4 1.4 0 1 0 2.8 0a1.4 1.4 0 1 0 -2.8 0Z" fill="#ff0000"/>
<path d="M400.2 344.1H678.6V643.6H400.2ZM400.2 552.6H678.6" fill="none" stroke="#000" stroke-width="1.3"/>
<path d="M400.2 344.1V349.1M400.2 548.6V556.1M400.2 643.6V640.3M407.2 344.1V346.6M407.2 551V554.6M407.2 643.6V642.2M414.1 344.1V346.6M414.1 551V554.6M414.1 643.6V642.2M421.1 344.1V346.6M421.1 551V554.6M421.1 643.6V642.2M428 344.1V349.1M428 548.6V556.1M428 643.6V640.3M435 344.1V346.6M435 551V554.6M435 643.6V642.2M442 344.1V346.6M442 551V554.6M442 643.6V642.2M448.9 344.1V346.6M448.9 551V554.6M448.9 643.6V642.2M455.9 344.1V349.1M455.9 548.6V556.1M455.9 643.6V640.3M462.8 344.1V346.6M462.8 551V554.6M462.8 643.6V642.2M469.8 344.1V346.6M469.8 551V554.6M469.8 643.6V642.2M476.8 344.1V346.6M476.8 551V554.6M476.8 643.6V642.2M483.7 344.1V349.1M483.7 548.6V556.1M483.7 643.6V640.3M490.7 344.1V346.6M490.7 551V554.6M490.7 643.6V642.2M497.6 344.1V346.6M497.6 551V554.6M497.6 643.6V642.2M504.6 344.1V346.6M504.6 551V554.6M504.6 643.6V642.2M511.6 344.1V349.1M511.6 548.6V556.1M511.6 643.6V640.3M518.5 344.1V346.6M518.5 551V554.6M518.5 643.6V642.2M525.5 344.1V346.6M525.5 551V554.6M525.5 643.6V642.2M532.4 344.1V346.6M532.4 551V554.6M532.4 643.6V642.2M539.4 344.1V349.1M539.4 548.6V556.1M539.4 643.6V640.3M546.4 344.1V346.6M546.4 551V554.6M546.4 643.6V642.2M553.3 344.1V346.6M553.3 551V554.6M553.3 643.6V642.2M560.3 344.1V346.6M560.3 551V554.6M560.3 643.6V642.2M567.2 344.1V349.1M567.2 548.6V556.1M567.2 643.6V640.3M574.2 344.1V346.6M574.2 551V554.6M574.2 643.6V642.2M581.2 344.1V346.6M581.2 551V554.6M581.2 643.6V642.2M588.1 344.1V346.6M588.1 551V554.6M588.1 643.6V642.2M595.1 344.1V349.1M595.1 548.6V556.1M595.1 643.6V640.3M602 344.1V346.6M602 551V554.6M602 643.6V642.2M609 344.1V346.6M609 551V554.6M609 643.6V642.2M616 344.1V346.6M616 551V554.6M616 643.6V642.2M622.9 344.1V349.1M622.9 548.6V556.1M622.9 643.6V640.3M629.9 344.1V346.6M629.9 551V554.6M629.9 643.6V642.2M636.8 344.1V346.6M636.8 551V554.6M636.8 643.6V642.2M643.8 344.1V346.6M643.8 551V554.6M643.8 643.6V642.2M650.8 344.1V349.1M650.8 548.6V556.1M650.8 643.6V640.3M657.7 344.1V346.6M657.7 551V554.6M657.7 643.6V642.2M664.7 344.1V346.6M664.7 551V554.6M664.7 643.6V642.2M671.6 344.1V346.6M671.6 551V554.6M671.6 643.6V642.2M678.6 344.1V349.1M678.6 548.6V556.1M678.6 643.6V640.3M400.2 552.6H404.7M674.1 552.6H678.6M400.2 549.3H404.7M674.1 549.3H678.6M400.2 546.3H404.7M674.1 546.3H678.6M400.2 543.7H409.2M669.6 543.7H678.6M400.2 526.4H404.7M674.1 526.4H678.6M400.2 516.3H404.7M674.1 516.3H678.6M400.2 509.1H404.7M674.1 509.1H678.6M400.2 503.6H404.7M674.1 503.6H678.6M400.2 499H404.7M674.1 499H678.6M400.2 495.2H404.7M674.1 495.2H678.6M400.2 491.9H404.7M674.1 491.9H678.6M400.2 488.9H404.7M674.1 488.9H678.6M400.2 486.3H409.2M669.6 486.3H678.6M400.2 469H404.7M674.1 469H678.6M400.2 458.9H404.7M674.1 458.9H678.6M400.2 451.7H404.7M674.1 451.7H678.6M400.2 446.2H404.7M674.1 446.2H678.6M400.2 441.6H404.7M674.1 441.6H678.6M400.2 437.8H404.7M674.1 437.8H678.6M400.2 434.5H404.7M674.1 434.5H678.6M400.2 431.5H404.7M674.1 431.5H678.6M400.2 428.9H409.2M669.6 428.9H678.6M400.2 411.6H404.7M674.1 411.6H678.6M400.2 401.5H404.7M674.1 401.5H678.6M400.2 394.3H404.7M674.1 394.3H678.6M400.2 388.8H404.7M674.1 388.8H678.6M400.2 384.2H404.7M674.1 384.2H678.6M400.2 380.4H404.7M674.1 380.4H678.6M400.2 377.1H404.7M674.1 377.1H678.6M400.2 374.1H404.7M674.1 374.1H678.6M400.2 371.5H409.2M669.6 371.5H678.6M400.2 354.2H404.7M674.1 354.2H678.6M400.2 344.1H404.7M674.1 344.1H678.6M400.2 638.5H407.4M671.4 638.5H678.6M400.2 631.8H403.9M674.9 631.8H678.6M400.2 625.1H403.9M674.9 625.1H678.6M400.2 618.3H403.9M674.9 618.3H678.6M400.2 611.6H403.9M674.9 611.6H678.6M400.2 604.9H407.4M671.4 604.9H678.6M400.2 598.2H403.9M674.9 598.2H678.6M400.2 591.5H403.9M674.9 591.5H678.6M400.2 584.7H403.9M674.9 584.7H678.6M400.2 578H403.9M674.9 578H678.6M400.2 571.3H407.4M671.4 571.3H678.6M400.2 564.6H403.9M674.9 564.6H678.6M400.2 557.9H403.9M674.9 557.9H678.6" fill="none" stroke="#000" stroke-width="1.2"/>
<text x="384.95" y="375.39" font-size="10.0" textLength="12.00" lengthAdjust="spacingAndGlyphs">10</text>
<text x="392.35" y="432.80" font-size="10.0" textLength="4.60" lengthAdjust="spacingAndGlyphs">1</text>
<text x="379.80" y="490.20" font-size="10.0" textLength="17.85" lengthAdjust="spacingAndGlyphs">10<tspan dy="-3.4" font-size="7">-1</tspan></text>
<text x="379.80" y="547.61" font-size="10.0" textLength="17.85" lengthAdjust="spacingAndGlyphs">10<tspan dy="-3.4" font-size="7">-2</tspan></text>
<text x="383.25" y="575.20" font-size="10.0" textLength="12.90" lengthAdjust="spacingAndGlyphs">1.5</text>
<text x="392.35" y="608.80" font-size="10.0" textLength="4.30" lengthAdjust="spacingAndGlyphs">1</text>
<text x="383.25" y="642.40" font-size="10.0" textLength="12.90" lengthAdjust="spacingAndGlyphs">0.5</text>
<text x="395.70" y="654.20" font-size="10.0" textLength="8.30" lengthAdjust="spacingAndGlyphs">-1</text>
<text x="418.29" y="654.20" font-size="10.0" textLength="18.80" lengthAdjust="spacingAndGlyphs">-0.8</text>
<text x="446.13" y="654.20" font-size="10.0" textLength="18.80" lengthAdjust="spacingAndGlyphs">-0.6</text>
<text x="473.97" y="654.20" font-size="10.0" textLength="18.80" lengthAdjust="spacingAndGlyphs">-0.4</text>
<text x="501.81" y="654.20" font-size="10.0" textLength="18.80" lengthAdjust="spacingAndGlyphs">-0.2</text>
<text x="536.10" y="654.20" font-size="10.0" textLength="6.60" lengthAdjust="spacingAndGlyphs">0</text>
<text x="559.64" y="654.20" font-size="10.0" textLength="15.20" lengthAdjust="spacingAndGlyphs">0.2</text>
<text x="587.48" y="654.20" font-size="10.0" textLength="15.20" lengthAdjust="spacingAndGlyphs">0.4</text>
<text x="615.32" y="654.20" font-size="10.0" textLength="15.20" lengthAdjust="spacingAndGlyphs">0.6</text>
<text x="643.16" y="654.20" font-size="10.0" textLength="15.20" lengthAdjust="spacingAndGlyphs">0.8</text>
<text x="677.25" y="654.20" font-size="10.0" textLength="4.30" lengthAdjust="spacingAndGlyphs">1</text>
<text x="645.50" y="668.90" font-size="11" textLength="33.20" lengthAdjust="spacingAndGlyphs">cos &#981;</text>
<text transform="translate(377.90,435.90) rotate(-90)" font-size="12" textLength="92" lengthAdjust="spacingAndGlyphs">(1/&#963;) d&#931;/d(cos &#981;)</text>
<text transform="translate(378.20,626.40) rotate(-90)" font-size="12.6" textLength="58" lengthAdjust="spacingAndGlyphs">MC / Data</text>
<rect x="420.30" y="561.30" width="17.4" height="8.3" fill="#66cc66" stroke="#000" stroke-width="0.8"/>
<text x="442.70" y="568.60" font-size="9.6" textLength="42.20" lengthAdjust="spacingAndGlyphs">Data stat.</text>
<text x="498.90" y="568.60" font-size="9.6" textLength="42.20" lengthAdjust="spacingAndGlyphs">syst. unc.</text>
<g transform="translate(492.10,565.50)" stroke="#000" stroke-width="0.8"><circle r="3.1" fill="none"/><line x1="-3.1" y1="0" x2="3.1" y2="0"/><line x1="0" y1="-3.1" x2="0" y2="3.1"/></g>
<text x="452.50" y="373.10" font-size="14" textLength="52.50" lengthAdjust="spacingAndGlyphs" font-weight="bold" font-style="italic">ATLAS</text>
<text x="432.90" y="400.50" font-size="10.3" textLength="104.80" lengthAdjust="spacingAndGlyphs" >s = 8 TeV; 20.2 fb<tspan dy="-5.2" font-size="7">-1</tspan></text>
<path d="M427.80,395.20 L429.80,400.90 L431.30,391.70 L438.40,391.70" fill="none" stroke="#000" stroke-width="1.1"/>
<text x="431.00" y="424.20" font-size="10.5" textLength="102.80" lengthAdjust="spacingAndGlyphs" >anti-k<tspan dy="3.2" font-size="7">t</tspan><tspan dy="-3.2"> jets R = 0.4</tspan></text>
<text x="433.60" y="451.30" font-size="10.3" textLength="156.10" lengthAdjust="spacingAndGlyphs" >1000 GeV &lt; H<tspan dy="3.9" font-size="7">T2</tspan><tspan dy="-3.9"> &lt; 1100 GeV</tspan></text>
<text x="590.00" y="373.25" font-size="10.4" textLength="57.40" lengthAdjust="spacingAndGlyphs" >Data 2012</text>
<text x="590.00" y="392.60" font-size="10.4" textLength="41.40" lengthAdjust="spacingAndGlyphs" >Pythia8</text>
<text x="590.00" y="412.40" font-size="10.4" textLength="52.70" lengthAdjust="spacingAndGlyphs" >Herwig++</text>
<text x="589.70" y="431.10" font-size="10.4" textLength="39.90" lengthAdjust="spacingAndGlyphs" >Sherpa</text>
<ellipse cx="578.70" cy="369.60" rx="3.1" ry="2.9"/>
<line x1="570.10" y1="389.00" x2="587.10" y2="389.00" stroke="#ff0000" stroke-width="1.6" />
<line x1="570.10" y1="408.20" x2="586.70" y2="408.20" stroke="#0000ff" stroke-width="1.7" stroke-dasharray="2 1.44"/>
<line x1="570.10" y1="427.40" x2="587.10" y2="427.40" stroke="#6f3f12" stroke-width="1.6" stroke-dasharray="3.2 1.2 0.9 1.6"/>
<path d="M35 946.4H40.6V948.6H35ZM40.6 946.3H46.1V948.7H40.6ZM46.1 946.1H51.7V948.9H46.1ZM51.7 946H57.3V949H51.7ZM57.3 945.9H62.8V949.1H57.3ZM62.8 945.7H74V949.3H62.8ZM74 945.6H85.1V949.4H74ZM85.1 945.5H96.2V949.5H85.1ZM96.2 945.5H107.4V949.5H96.2ZM107.4 945.5H124.1V949.5H107.4ZM124.1 945.5H140.8V949.5H124.1ZM140.8 945.5H157.5V949.5H140.8ZM157.5 945.5H174.2V949.5H157.5ZM174.2 945.5H190.8V949.5H174.2ZM190.8 945.5H207.5V949.5H190.8ZM207.5 945.5H224.2V949.5H207.5ZM224.2 945.5H240.9V949.5H224.2ZM240.9 945.5H252.1V949.5H240.9ZM252.1 945.5H263.2V949.5H252.1ZM263.2 945.5H274.3V949.5H263.2ZM274.3 945.6H285.5V949.4H274.3ZM285.5 945.7H291V949.3H285.5ZM291 945.9H296.6V949.1H291ZM296.6 946H302.2V949H296.6ZM302.2 946.1H307.7V948.9H302.2ZM307.7 946.3H313.3V948.7H307.7Z" fill="#66cc66"/>
<line x1="35.00" y1="947.50" x2="313.30" y2="947.50" stroke="#000" stroke-width="1.5" stroke-dasharray="2.4 3.4" stroke-dashoffset="0.7"/>
<path d="M35 711.9H40.6M40.6 788.2H46.1M46.1 808.3H51.7M51.7 821.6H57.3M57.3 830.9H62.8M62.8 840.7H74M74 850.2H85.1M85.1 856.7H96.2M96.2 861.4H107.4M107.4 865.7H124.1M124.1 869.7H140.8M140.8 870.8H157.5M157.5 873.1H174.2M174.2 874.3H190.8M190.8 874H207.5M207.5 873.5H224.2M224.2 871.4H240.9M240.9 868.7H252.1M252.1 866.4H263.2M263.2 862.9H274.3M274.3 855.5H285.5M285.5 849.2H291M291 843.7H296.6M296.6 837.6H302.2M302.2 834.9H307.7M307.7 710H313.3" fill="none" stroke="#6f3f12" stroke-width="1.6" stroke-dasharray="3.2 1.2 0.9 1.6"/>
<path d="M37.8 711.5V712.3M43.3 787.7V788.9M48.9 807.7V808.9M54.5 821V822.2M60 830.3V831.5M68.4 840.1V841.3M79.5 849.6V850.8M90.7 856.1V857.3M101.8 860.8V862M115.7 865.1V866.3M132.4 869.1V870.3M149.1 870.2V871.4M165.8 872.5V873.7M182.5 873.7V874.9M199.2 873.4V874.6M215.9 872.9V874.1M232.6 870.8V872M246.5 868.1V869.3M257.6 865.8V867M268.8 862.3V863.5M279.9 854.9V856.1M288.3 848.6V849.8M293.8 843.1V844.3M299.4 837V838.2M305 834.3V835.5M310.5 709.6V710.4" fill="none" stroke="#6f3f12" stroke-width="1.5"/>
<path d="M35 712.5H40.6M40.6 783.6H46.1M46.1 802.3H51.7M51.7 814.5H57.3M57.3 823H62.8M62.8 832.4H74M74 841.5H85.1M85.1 848.7H96.2M96.2 854.4H107.4M107.4 859.1H124.1M124.1 863.1H140.8M140.8 864.9H157.5M157.5 866.6H174.2M174.2 867.1H190.8M190.8 867.4H207.5M207.5 867.3H224.2M224.2 865.4H240.9M240.9 863.2H252.1M252.1 860.4H263.2M263.2 857.7H274.3M274.3 851.4H285.5M285.5 846H291M291 840.9H296.6M296.6 834.9H302.2M302.2 833.1H307.7M307.7 710.3H313.3" fill="none" stroke="#0000ff" stroke-width="1.7" stroke-dasharray="2 1.44"/>
<path d="M35 712.2H40.6M40.6 783.8H46.1M46.1 803.6H51.7M51.7 816.8H57.3M57.3 826.5H62.8M62.8 837H74M74 847.2H85.1M85.1 854.8H96.2M96.2 859.2H107.4M107.4 863.6H124.1M124.1 867.6H140.8M140.8 869.3H157.5M157.5 870.6H174.2M174.2 871.6H190.8M190.8 871.6H207.5M207.5 870.4H224.2M224.2 868.1H240.9M240.9 865.5H252.1M252.1 862.2H263.2M263.2 858.7H274.3M274.3 852.4H285.5M285.5 846.3H291M291 840.3H296.6M296.6 834.3H302.2M302.2 830.5H307.7M307.7 710.1H313.3" fill="none" stroke="#ff0000" stroke-width="1.6"/>
<path d="M34.7 711.9a3.1 2.9 0 1 0 6.2 0a3.1 2.9 0 1 0 -6.2 0ZM40.2 786.2a3.1 2.9 0 1 0 6.2 0a3.1 2.9 0 1 0 -6.2 0ZM45.8 806.7a3.1 2.9 0 1 0 6.2 0a3.1 2.9 0 1 0 -6.2 0ZM51.4 820.2a3.1 2.9 0 1 0 6.2 0a3.1 2.9 0 1 0 -6.2 0ZM56.9 829.5a3.1 2.9 0 1 0 6.2 0a3.1 2.9 0 1 0 -6.2 0ZM65.3 839.3a3.1 2.9 0 1 0 6.2 0a3.1 2.9 0 1 0 -6.2 0ZM76.4 848.6a3.1 2.9 0 1 0 6.2 0a3.1 2.9 0 1 0 -6.2 0ZM87.6 854.9a3.1 2.9 0 1 0 6.2 0a3.1 2.9 0 1 0 -6.2 0ZM98.7 859.2a3.1 2.9 0 1 0 6.2 0a3.1 2.9 0 1 0 -6.2 0ZM112.6 863.4a3.1 2.9 0 1 0 6.2 0a3.1 2.9 0 1 0 -6.2 0ZM129.3 867.3a3.1 2.9 0 1 0 6.2 0a3.1 2.9 0 1 0 -6.2 0ZM146 869.8a3.1 2.9 0 1 0 6.2 0a3.1 2.9 0 1 0 -6.2 0ZM162.7 871.4a3.1 2.9 0 1 0 6.2 0a3.1 2.9 0 1 0 -6.2 0ZM179.4 872.5a3.1 2.9 0 1 0 6.2 0a3.1 2.9 0 1 0 -6.2 0ZM196.1 872.8a3.1 2.9 0 1 0 6.2 0a3.1 2.9 0 1 0 -6.2 0ZM212.8 871.7a3.1 2.9 0 1 0 6.2 0a3.1 2.9 0 1 0 -6.2 0ZM229.5 870a3.1 2.9 0 1 0 6.2 0a3.1 2.9 0 1 0 -6.2 0ZM243.4 867.9a3.1 2.9 0 1 0 6.2 0a3.1 2.9 0 1 0 -6.2 0ZM254.5 865.2a3.1 2.9 0 1 0 6.2 0a3.1 2.9 0 1 0 -6.2 0ZM265.7 861.7a3.1 2.9 0 1 0 6.2 0a3.1 2.9 0 1 0 -6.2 0ZM276.8 855.4a3.1 2.9 0 1 0 6.2 0a3.1 2.9 0 1 0 -6.2 0ZM285.2 849.2a3.1 2.9 0 1 0 6.2 0a3.1 2.9 0 1 0 -6.2 0ZM290.7 843.4a3.1 2.9 0 1 0 6.2 0a3.1 2.9 0 1 0 -6.2 0ZM296.3 837.8a3.1 2.9 0 1 0 6.2 0a3.1 2.9 0 1 0 -6.2 0ZM301.9 836.1a3.1 2.9 0 1 0 6.2 0a3.1 2.9 0 1 0 -6.2 0ZM307.4 710a3.1 2.9 0 1 0 6.2 0a3.1 2.9 0 1 0 -6.2 0Z"/>
<path d="M35 947.5H40.6M40.6 952.7H46.1M46.1 951.9H51.7M51.7 951.2H57.3M57.3 951H62.8M62.8 951.2H74M74 951.6H85.1M85.1 952.2H96.2M96.2 953.3H107.4M107.4 953.5H124.1M124.1 953.5H140.8M140.8 950.3H157.5M157.5 951.9H174.2M174.2 952.2H190.8M190.8 950.6H207.5M207.5 952.2H224.2M224.2 951.1H240.9M240.9 949.5H252.1M252.1 950.6H263.2M263.2 950.6H274.3M274.3 947.8H285.5M285.5 947.4H291M291 948.3H296.6M296.6 947H302.2M302.2 944.1H307.7M307.7 947.5H313.3" fill="none" stroke="#6f3f12" stroke-width="1.6" stroke-dasharray="3.2 1.2 0.9 1.6"/>
<path d="M37.8 946.8V948.2M43.3 951.7V953.7M48.9 950.9V952.9M54.5 950.2V952.2M60 950V952M68.4 950.2V952.2M79.5 950.6V952.6M90.7 951.2V953.2M101.8 952.3V954.4M115.7 952.5V954.6M132.4 952.5V954.5M149.1 949.2V951.3M165.8 950.9V952.9M182.5 951.2V953.2M199.2 949.6V951.6M215.9 951.2V953.2M232.6 950.1V952.1M246.5 948.5V950.5M257.6 949.6V951.6M268.8 949.6V951.6M279.9 946.8V948.8M288.3 946.4V948.4M293.8 947.3V949.3M299.4 946V948M305 943.1V945.1M310.5 946.8V948.2" fill="none" stroke="#6f3f12" stroke-width="1.6"/>
<path d="M35 948.9H40.6M40.6 940.2H46.1M46.1 934.6H51.7M51.7 930.5H57.3M57.3 927.3H62.8M62.8 926.2H74M74 925.5H85.1M85.1 928.7H96.2M96.2 933.2H107.4M107.4 934.9H124.1M124.1 935H140.8M140.8 933H157.5M157.5 933.3H174.2M174.2 931.4H190.8M190.8 931.4H207.5M207.5 934.7H224.2M224.2 933.8H240.9M240.9 933.3H252.1M252.1 933.3H263.2M263.2 935.8H274.3M274.3 935.8H285.5M285.5 938.2H291M291 940.3H296.6M296.6 939.3H302.2M302.2 939H307.7M307.7 948.3H313.3" fill="none" stroke="#0000ff" stroke-width="1.7" stroke-dasharray="2 1.44"/>
<path d="M37.8 946.7l2.2 2.2l-2.2 2.2l-2.2 -2.2ZM43.3 938l2.2 2.2l-2.2 2.2l-2.2 -2.2ZM48.9 932.4l2.2 2.2l-2.2 2.2l-2.2 -2.2ZM54.5 928.3l2.2 2.2l-2.2 2.2l-2.2 -2.2ZM60 925.1l2.2 2.2l-2.2 2.2l-2.2 -2.2ZM68.4 924l2.2 2.2l-2.2 2.2l-2.2 -2.2ZM79.5 923.3l2.2 2.2l-2.2 2.2l-2.2 -2.2ZM90.7 926.5l2.2 2.2l-2.2 2.2l-2.2 -2.2ZM101.8 931l2.2 2.2l-2.2 2.2l-2.2 -2.2ZM115.7 932.7l2.2 2.2l-2.2 2.2l-2.2 -2.2ZM132.4 932.8l2.2 2.2l-2.2 2.2l-2.2 -2.2ZM149.1 930.8l2.2 2.2l-2.2 2.2l-2.2 -2.2ZM165.8 931.1l2.2 2.2l-2.2 2.2l-2.2 -2.2ZM182.5 929.2l2.2 2.2l-2.2 2.2l-2.2 -2.2ZM199.2 929.2l2.2 2.2l-2.2 2.2l-2.2 -2.2ZM215.9 932.5l2.2 2.2l-2.2 2.2l-2.2 -2.2ZM232.6 931.6l2.2 2.2l-2.2 2.2l-2.2 -2.2ZM246.5 931.1l2.2 2.2l-2.2 2.2l-2.2 -2.2ZM257.6 931.1l2.2 2.2l-2.2 2.2l-2.2 -2.2ZM268.8 933.6l2.2 2.2l-2.2 2.2l-2.2 -2.2ZM279.9 933.6l2.2 2.2l-2.2 2.2l-2.2 -2.2ZM288.3 936l2.2 2.2l-2.2 2.2l-2.2 -2.2ZM293.8 938.1l2.2 2.2l-2.2 2.2l-2.2 -2.2ZM299.4 937.1l2.2 2.2l-2.2 2.2l-2.2 -2.2ZM305 936.8l2.2 2.2l-2.2 2.2l-2.2 -2.2ZM310.5 946.1l2.2 2.2l-2.2 2.2l-2.2 -2.2Z" fill="#0000ff"/>
<path d="M35 948.1H40.6M40.6 940.7H46.1M46.1 938.7H51.7M51.7 937.8H57.3M57.3 938.7H62.8M62.8 941H74M74 943.6H85.1M85.1 947.2H96.2M96.2 947.5H107.4M107.4 948.2H124.1M124.1 948.3H140.8M140.8 946.2H157.5M157.5 945.4H174.2M174.2 945.1H190.8M190.8 944.1H207.5M207.5 943.9H224.2M224.2 941.9H240.9M240.9 940.6H252.1M252.1 939H263.2M263.2 938.7H274.3M274.3 938.7H285.5M285.5 939.3H291M291 938.7H296.6M296.6 937.4H302.2M302.2 930.6H307.7M307.7 947.8H313.3" fill="none" stroke="#ff0000" stroke-width="1.6"/>
<path d="M36.4 948.1a1.4 1.4 0 1 0 2.8 0a1.4 1.4 0 1 0 -2.8 0ZM41.9 940.7a1.4 1.4 0 1 0 2.8 0a1.4 1.4 0 1 0 -2.8 0ZM47.5 938.7a1.4 1.4 0 1 0 2.8 0a1.4 1.4 0 1 0 -2.8 0ZM53.1 937.8a1.4 1.4 0 1 0 2.8 0a1.4 1.4 0 1 0 -2.8 0ZM58.6 938.7a1.4 1.4 0 1 0 2.8 0a1.4 1.4 0 1 0 -2.8 0ZM67 941a1.4 1.4 0 1 0 2.8 0a1.4 1.4 0 1 0 -2.8 0ZM78.1 943.6a1.4 1.4 0 1 0 2.8 0a1.4 1.4 0 1 0 -2.8 0ZM89.3 947.2a1.4 1.4 0 1 0 2.8 0a1.4 1.4 0 1 0 -2.8 0ZM100.4 947.5a1.4 1.4 0 1 0 2.8 0a1.4 1.4 0 1 0 -2.8 0ZM114.3 948.2a1.4 1.4 0 1 0 2.8 0a1.4 1.4 0 1 0 -2.8 0ZM131 948.3a1.4 1.4 0 1 0 2.8 0a1.4 1.4 0 1 0 -2.8 0ZM147.7 946.2a1.4 1.4 0 1 0 2.8 0a1.4 1.4 0 1 0 -2.8 0ZM164.4 945.4a1.4 1.4 0 1 0 2.8 0a1.4 1.4 0 1 0 -2.8 0ZM181.1 945.1a1.4 1.4 0 1 0 2.8 0a1.4 1.4 0 1 0 -2.8 0ZM197.8 944.1a1.4 1.4 0 1 0 2.8 0a1.4 1.4 0 1 0 -2.8 0ZM214.5 943.9a1.4 1.4 0 1 0 2.8 0a1.4 1.4 0 1 0 -2.8 0ZM231.2 941.9a1.4 1.4 0 1 0 2.8 0a1.4 1.4 0 1 0 -2.8 0ZM245.1 940.6a1.4 1.4 0 1 0 2.8 0a1.4 1.4 0 1 0 -2.8 0ZM256.2 939a1.4 1.4 0 1 0 2.8 0a1.4 1.4 0 1 0 -2.8 0ZM267.4 938.7a1.4 1.4 0 1 0 2.8 0a1.4 1.4 0 1 0 -2.8 0ZM278.5 938.7a1.4 1.4 0 1 0 2.8 0a1.4 1.4 0 1 0 -2.8 0ZM286.9 939.3a1.4 1.4 0 1 0 2.8 0a1.4 1.4 0 1 0 -2.8 0ZM292.4 938.7a1.4 1.4 0 1 0 2.8 0a1.4 1.4 0 1 0 -2.8 0ZM298 937.4a1.4 1.4 0 1 0 2.8 0a1.4 1.4 0 1 0 -2.8 0ZM303.6 930.6a1.4 1.4 0 1 0 2.8 0a1.4 1.4 0 1 0 -2.8 0ZM309.1 947.8a1.4 1.4 0 1 0 2.8 0a1.4 1.4 0 1 0 -2.8 0Z" fill="#ff0000"/>
<path d="M35 686.7H313.3V986.2H35ZM35 895.2H313.3" fill="none" stroke="#000" stroke-width="1.3"/>
<path d="M35 686.7V691.7M35 891.2V898.7M35 986.2V982.9M42 686.7V689.2M42 893.6V897.2M42 986.2V984.8M48.9 686.7V689.2M48.9 893.6V897.2M48.9 986.2V984.8M55.9 686.7V689.2M55.9 893.6V897.2M55.9 986.2V984.8M62.8 686.7V691.7M62.8 891.2V898.7M62.8 986.2V982.9M69.8 686.7V689.2M69.8 893.6V897.2M69.8 986.2V984.8M76.7 686.7V689.2M76.7 893.6V897.2M76.7 986.2V984.8M83.7 686.7V689.2M83.7 893.6V897.2M83.7 986.2V984.8M90.7 686.7V691.7M90.7 891.2V898.7M90.7 986.2V982.9M97.6 686.7V689.2M97.6 893.6V897.2M97.6 986.2V984.8M104.6 686.7V689.2M104.6 893.6V897.2M104.6 986.2V984.8M111.5 686.7V689.2M111.5 893.6V897.2M111.5 986.2V984.8M118.5 686.7V691.7M118.5 891.2V898.7M118.5 986.2V982.9M125.4 686.7V689.2M125.4 893.6V897.2M125.4 986.2V984.8M132.4 686.7V689.2M132.4 893.6V897.2M132.4 986.2V984.8M139.4 686.7V689.2M139.4 893.6V897.2M139.4 986.2V984.8M146.3 686.7V691.7M146.3 891.2V898.7M146.3 986.2V982.9M153.3 686.7V689.2M153.3 893.6V897.2M153.3 986.2V984.8M160.2 686.7V689.2M160.2 893.6V897.2M160.2 986.2V984.8M167.2 686.7V689.2M167.2 893.6V897.2M167.2 986.2V984.8M174.2 686.7V691.7M174.2 891.2V898.7M174.2 986.2V982.9M181.1 686.7V689.2M181.1 893.6V897.2M181.1 986.2V984.8M188.1 686.7V689.2M188.1 893.6V897.2M188.1 986.2V984.8M195 686.7V689.2M195 893.6V897.2M195 986.2V984.8M202 686.7V691.7M202 891.2V898.7M202 986.2V982.9M208.9 686.7V689.2M208.9 893.6V897.2M208.9 986.2V984.8M215.9 686.7V689.2M215.9 893.6V897.2M215.9 986.2V984.8M222.9 686.7V689.2M222.9 893.6V897.2M222.9 986.2V984.8M229.8 686.7V691.7M229.8 891.2V898.7M229.8 986.2V982.9M236.8 686.7V689.2M236.8 893.6V897.2M236.8 986.2V984.8M243.7 686.7V689.2M243.7 893.6V897.2M243.7 986.2V984.8M250.7 686.7V689.2M250.7 893.6V897.2M250.7 986.2V984.8M257.6 686.7V691.7M257.6 891.2V898.7M257.6 986.2V982.9M264.6 686.7V689.2M264.6 893.6V897.2M264.6 986.2V984.8M271.6 686.7V689.2M271.6 893.6V897.2M271.6 986.2V984.8M278.5 686.7V689.2M278.5 893.6V897.2M278.5 986.2V984.8M285.5 686.7V691.7M285.5 891.2V898.7M285.5 986.2V982.9M292.4 686.7V689.2M292.4 893.6V897.2M292.4 986.2V984.8M299.4 686.7V689.2M299.4 893.6V897.2M299.4 986.2V984.8M306.3 686.7V689.2M306.3 893.6V897.2M306.3 986.2V984.8M313.3 686.7V691.7M313.3 891.2V898.7M313.3 986.2V982.9M35 895.2H39.5M308.8 895.2H313.3M35 891.9H39.5M308.8 891.9H313.3M35 888.9H39.5M308.8 888.9H313.3M35 886.3H44M304.3 886.3H313.3M35 869H39.5M308.8 869H313.3M35 858.9H39.5M308.8 858.9H313.3M35 851.7H39.5M308.8 851.7H313.3M35 846.2H39.5M308.8 846.2H313.3M35 841.6H39.5M308.8 841.6H313.3M35 837.8H39.5M308.8 837.8H313.3M35 834.5H39.5M308.8 834.5H313.3M35 831.5H39.5M308.8 831.5H313.3M35 828.9H44M304.3 828.9H313.3M35 811.6H39.5M308.8 811.6H313.3M35 801.5H39.5M308.8 801.5H313.3M35 794.3H39.5M308.8 794.3H313.3M35 788.8H39.5M308.8 788.8H313.3M35 784.2H39.5M308.8 784.2H313.3M35 780.4H39.5M308.8 780.4H313.3M35 777.1H39.5M308.8 777.1H313.3M35 774.1H39.5M308.8 774.1H313.3M35 771.5H44M304.3 771.5H313.3M35 754.2H39.5M308.8 754.2H313.3M35 744.1H39.5M308.8 744.1H313.3M35 736.9H39.5M308.8 736.9H313.3M35 731.4H39.5M308.8 731.4H313.3M35 726.8H39.5M308.8 726.8H313.3M35 723H39.5M308.8 723H313.3M35 719.7H39.5M308.8 719.7H313.3M35 716.7H39.5M308.8 716.7H313.3M35 714.1H44M304.3 714.1H313.3M35 696.8H39.5M308.8 696.8H313.3M35 686.7H39.5M308.8 686.7H313.3M35 981.1H42.2M306.1 981.1H313.3M35 974.4H38.7M309.6 974.4H313.3M35 967.7H38.7M309.6 967.7H313.3M35 960.9H38.7M309.6 960.9H313.3M35 954.2H38.7M309.6 954.2H313.3M35 947.5H42.2M306.1 947.5H313.3M35 940.8H38.7M309.6 940.8H313.3M35 934.1H38.7M309.6 934.1H313.3M35 927.3H38.7M309.6 927.3H313.3M35 920.6H38.7M309.6 920.6H313.3M35 913.9H42.2M306.1 913.9H313.3M35 907.2H38.7M309.6 907.2H313.3M35 900.5H38.7M309.6 900.5H313.3" fill="none" stroke="#000" stroke-width="1.2"/>
<text x="19.75" y="717.99" font-size="10.0" textLength="12.00" lengthAdjust="spacingAndGlyphs">10</text>
<text x="27.15" y="775.40" font-size="10.0" textLength="4.60" lengthAdjust="spacingAndGlyphs">1</text>
<text x="14.60" y="832.80" font-size="10.0" textLength="17.85" lengthAdjust="spacingAndGlyphs">10<tspan dy="-3.4" font-size="7">-1</tspan></text>
<text x="14.60" y="890.21" font-size="10.0" textLength="17.85" lengthAdjust="spacingAndGlyphs">10<tspan dy="-3.4" font-size="7">-2</tspan></text>
<text x="18.05" y="917.80" font-size="10.0" textLength="12.90" lengthAdjust="spacingAndGlyphs">1.5</text>
<text x="27.15" y="951.40" font-size="10.0" textLength="4.30" lengthAdjust="spacingAndGlyphs">1</text>
<text x="18.05" y="985.00" font-size="10.0" textLength="12.90" lengthAdjust="spacingAndGlyphs">0.5</text>
<text x="30.50" y="996.80" font-size="10.0" textLength="8.30" lengthAdjust="spacingAndGlyphs">-1</text>
<text x="53.08" y="996.80" font-size="10.0" textLength="18.80" lengthAdjust="spacingAndGlyphs">-0.8</text>
<text x="80.91" y="996.80" font-size="10.0" textLength="18.80" lengthAdjust="spacingAndGlyphs">-0.6</text>
<text x="108.74" y="996.80" font-size="10.0" textLength="18.80" lengthAdjust="spacingAndGlyphs">-0.4</text>
<text x="136.57" y="996.80" font-size="10.0" textLength="18.80" lengthAdjust="spacingAndGlyphs">-0.2</text>
<text x="170.85" y="996.80" font-size="10.0" textLength="6.60" lengthAdjust="spacingAndGlyphs">0</text>
<text x="194.38" y="996.80" font-size="10.0" textLength="15.20" lengthAdjust="spacingAndGlyphs">0.2</text>
<text x="222.21" y="996.80" font-size="10.0" textLength="15.20" lengthAdjust="spacingAndGlyphs">0.4</text>
<text x="250.04" y="996.80" font-size="10.0" textLength="15.20" lengthAdjust="spacingAndGlyphs">0.6</text>
<text x="277.87" y="996.80" font-size="10.0" textLength="15.20" lengthAdjust="spacingAndGlyphs">0.8</text>
<text x="311.95" y="996.80" font-size="10.0" textLength="4.30" lengthAdjust="spacingAndGlyphs">1</text>
<text x="280.30" y="1011.50" font-size="11" textLength="33.20" lengthAdjust="spacingAndGlyphs">cos &#981;</text>
<text transform="translate(12.70,778.50) rotate(-90)" font-size="12" textLength="92" lengthAdjust="spacingAndGlyphs">(1/&#963;) d&#931;/d(cos &#981;)</text>
<text transform="translate(13.00,969.00) rotate(-90)" font-size="12.6" textLength="58" lengthAdjust="spacingAndGlyphs">MC / Data</text>
<rect x="55.10" y="903.90" width="17.4" height="8.3" fill="#66cc66" stroke="#000" stroke-width="0.8"/>
<text x="77.50" y="911.20" font-size="9.6" textLength="42.20" lengthAdjust="spacingAndGlyphs">Data stat.</text>
<text x="133.70" y="911.20" font-size="9.6" textLength="42.20" lengthAdjust="spacingAndGlyphs">syst. unc.</text>
<g transform="translate(126.90,908.10)" stroke="#000" stroke-width="0.8"><circle r="3.1" fill="none"/><line x1="-3.1" y1="0" x2="3.1" y2="0"/><line x1="0" y1="-3.1" x2="0" y2="3.1"/></g>
<text x="87.30" y="715.70" font-size="14" textLength="52.50" lengthAdjust="spacingAndGlyphs" font-weight="bold" font-style="italic">ATLAS</text>
<text x="67.70" y="743.10" font-size="10.3" textLength="104.80" lengthAdjust="spacingAndGlyphs" >s = 8 TeV; 20.2 fb<tspan dy="-5.2" font-size="7">-1</tspan></text>
<path d="M62.60,737.80 L64.60,743.50 L66.10,734.30 L73.20,734.30" fill="none" stroke="#000" stroke-width="1.1"/>
<text x="65.80" y="766.80" font-size="10.5" textLength="102.80" lengthAdjust="spacingAndGlyphs" >anti-k<tspan dy="3.2" font-size="7">t</tspan><tspan dy="-3.2"> jets R = 0.4</tspan></text>
<text x="68.50" y="793.90" font-size="10.3" textLength="158.00" lengthAdjust="spacingAndGlyphs" >1100 GeV &lt; H<tspan dy="3.9" font-size="7">T2</tspan><tspan dy="-3.9"> &lt; 1400 GeV</tspan></text>
<text x="224.80" y="715.85" font-size="10.4" textLength="57.40" lengthAdjust="spacingAndGlyphs" >Data 2012</text>
<text x="224.80" y="735.20" font-size="10.4" textLength="41.40" lengthAdjust="spacingAndGlyphs" >Pythia8</text>
<text x="224.80" y="755.00" font-size="10.4" textLength="52.70" lengthAdjust="spacingAndGlyphs" >Herwig++</text>
<text x="224.50" y="773.70" font-size="10.4" textLength="39.90" lengthAdjust="spacingAndGlyphs" >Sherpa</text>
<ellipse cx="213.50" cy="712.20" rx="3.1" ry="2.9"/>
<line x1="204.90" y1="731.60" x2="221.90" y2="731.60" stroke="#ff0000" stroke-width="1.6" />
<line x1="204.90" y1="750.80" x2="221.50" y2="750.80" stroke="#0000ff" stroke-width="1.7" stroke-dasharray="2 1.44"/>
<line x1="204.90" y1="770.00" x2="221.90" y2="770.00" stroke="#6f3f12" stroke-width="1.6" stroke-dasharray="3.2 1.2 0.9 1.6"/>
<path d="M400.2 946.2H405.8V948.8H400.2ZM405.8 946H411.3V949H405.8ZM411.3 945.9H416.9V949.1H411.3ZM416.9 945.8H422.5V949.2H416.9ZM422.5 945.6H428V949.4H422.5ZM428 945.5H439.2V949.5H428ZM439.2 945.4H450.3V949.6H439.2ZM450.3 945.3H461.4V949.7H450.3ZM461.4 945.3H472.6V949.7H461.4ZM472.6 945.3H489.3V949.7H472.6ZM489.3 945.3H506V949.7H489.3ZM506 945.3H522.7V949.7H506ZM522.7 945.3H539.4V949.7H522.7ZM539.4 945.3H556.1V949.7H539.4ZM556.1 945.3H572.8V949.7H556.1ZM572.8 945.3H589.5V949.7H572.8ZM589.5 945.3H606.2V949.7H589.5ZM606.2 945.3H617.4V949.7H606.2ZM617.4 945.3H628.5V949.7H617.4ZM628.5 945.3H639.6V949.7H628.5ZM639.6 945.4H650.8V949.6H639.6ZM650.8 945.5H656.3V949.5H650.8ZM656.3 945.6H661.9V949.4H656.3ZM661.9 945.8H667.5V949.2H661.9ZM667.5 945.9H673V949.1H667.5ZM673 946H678.6V949H673Z" fill="#66cc66"/>
<line x1="400.20" y1="947.50" x2="678.60" y2="947.50" stroke="#000" stroke-width="1.5" stroke-dasharray="2.4 3.4" stroke-dashoffset="0.7"/>
<path d="M400.2 711.3H405.8M405.8 793.5H411.3M411.3 813.3H416.9M416.9 826.5H422.5M422.5 835.6H428M428 844.9H439.2M439.2 854.9H450.3M450.3 859.1H461.4M461.4 863H472.6M472.6 867.6H489.3M489.3 872.2H506M506 874.6H522.7M522.7 875.2H539.4M539.4 876.9H556.1M556.1 874.9H572.8M572.8 874.4H589.5M589.5 871.8H606.2M606.2 869.5H617.4M617.4 866.5H628.5M628.5 862H639.6M639.6 856H650.8M650.8 850.3H656.3M656.3 843.7H661.9M661.9 836.8H667.5M667.5 835.1H673M673 709.5H678.6" fill="none" stroke="#6f3f12" stroke-width="1.6" stroke-dasharray="3.2 1.2 0.9 1.6"/>
<path d="M403 710.9V711.7M408.6 792.9V794.1M414.1 812.8V814M419.7 825.9V827.1M425.3 835V836.2M433.6 844.3V845.5M444.7 854.3V855.5M455.9 858.5V859.7M467 862.4V863.6M480.9 867V868.2M497.6 871.6V872.8M514.3 874V875.2M531 874.6V875.8M547.8 876.3V877.5M564.5 874.3V875.5M581.2 873.8V875M597.9 871.2V872.4M611.8 868.9V870.1M622.9 865.9V867.1M634.1 861.4V862.6M645.2 855.4V856.6M653.5 849.7V850.9M659.1 843.1V844.3M664.7 836.2V837.4M670.2 834.5V835.7M675.8 709.1V709.9" fill="none" stroke="#6f3f12" stroke-width="1.5"/>
<path d="M400.2 711.8H405.8M405.8 788.8H411.3M411.3 807.8H416.9M416.9 819.8H422.5M422.5 828.3H428M428 836.9H439.2M439.2 846.5H450.3M450.3 853.5H461.4M461.4 858.5H472.6M472.6 862.4H489.3M489.3 866.1H506M506 868.4H522.7M522.7 869.1H539.4M539.4 869.8H556.1M556.1 870.2H572.8M572.8 868.7H589.5M589.5 866.9H606.2M606.2 864.6H617.4M617.4 862H628.5M628.5 857.8H639.6M639.6 852.4H650.8M650.8 846.6H656.3M656.3 841.5H661.9M661.9 835.3H667.5M667.5 833.5H673M673 709.7H678.6" fill="none" stroke="#0000ff" stroke-width="1.7" stroke-dasharray="2 1.44"/>
<path d="M400.2 711.1H405.8M405.8 790H411.3M411.3 810H416.9M416.9 823H422.5M422.5 832.5H428M428 842.4H439.2M439.2 852.1H450.3M450.3 859H461.4M461.4 863.2H472.6M472.6 866.7H489.3M489.3 870.2H506M506 872.7H522.7M522.7 873.3H539.4M539.4 873.7H556.1M556.1 873.8H572.8M572.8 872.5H589.5M589.5 870.4H606.2M606.2 867.5H617.4M617.4 864.6H628.5M628.5 860.3H639.6M639.6 854.1H650.8M650.8 847.5H656.3M656.3 842H661.9M661.9 835.3H667.5M667.5 832H673M673 709.7H678.6" fill="none" stroke="#ff0000" stroke-width="1.6"/>
<path d="M399.9 711.3a3.1 2.9 0 1 0 6.2 0a3.1 2.9 0 1 0 -6.2 0ZM405.5 792a3.1 2.9 0 1 0 6.2 0a3.1 2.9 0 1 0 -6.2 0ZM411 812.3a3.1 2.9 0 1 0 6.2 0a3.1 2.9 0 1 0 -6.2 0ZM416.6 825.2a3.1 2.9 0 1 0 6.2 0a3.1 2.9 0 1 0 -6.2 0ZM422.2 834.5a3.1 2.9 0 1 0 6.2 0a3.1 2.9 0 1 0 -6.2 0ZM430.5 844.8a3.1 2.9 0 1 0 6.2 0a3.1 2.9 0 1 0 -6.2 0ZM441.6 853.2a3.1 2.9 0 1 0 6.2 0a3.1 2.9 0 1 0 -6.2 0ZM452.8 859a3.1 2.9 0 1 0 6.2 0a3.1 2.9 0 1 0 -6.2 0ZM463.9 863.7a3.1 2.9 0 1 0 6.2 0a3.1 2.9 0 1 0 -6.2 0ZM477.8 866.8a3.1 2.9 0 1 0 6.2 0a3.1 2.9 0 1 0 -6.2 0ZM494.5 870.8a3.1 2.9 0 1 0 6.2 0a3.1 2.9 0 1 0 -6.2 0ZM511.2 872.4a3.1 2.9 0 1 0 6.2 0a3.1 2.9 0 1 0 -6.2 0ZM527.9 873.4a3.1 2.9 0 1 0 6.2 0a3.1 2.9 0 1 0 -6.2 0ZM544.7 874.6a3.1 2.9 0 1 0 6.2 0a3.1 2.9 0 1 0 -6.2 0ZM561.4 875.2a3.1 2.9 0 1 0 6.2 0a3.1 2.9 0 1 0 -6.2 0ZM578.1 874a3.1 2.9 0 1 0 6.2 0a3.1 2.9 0 1 0 -6.2 0ZM594.8 871.5a3.1 2.9 0 1 0 6.2 0a3.1 2.9 0 1 0 -6.2 0ZM608.7 869.4a3.1 2.9 0 1 0 6.2 0a3.1 2.9 0 1 0 -6.2 0ZM619.8 866.8a3.1 2.9 0 1 0 6.2 0a3.1 2.9 0 1 0 -6.2 0ZM631 862.1a3.1 2.9 0 1 0 6.2 0a3.1 2.9 0 1 0 -6.2 0ZM642.1 855.9a3.1 2.9 0 1 0 6.2 0a3.1 2.9 0 1 0 -6.2 0ZM650.4 849.5a3.1 2.9 0 1 0 6.2 0a3.1 2.9 0 1 0 -6.2 0ZM656 843.8a3.1 2.9 0 1 0 6.2 0a3.1 2.9 0 1 0 -6.2 0ZM661.6 838a3.1 2.9 0 1 0 6.2 0a3.1 2.9 0 1 0 -6.2 0ZM667.1 836.5a3.1 2.9 0 1 0 6.2 0a3.1 2.9 0 1 0 -6.2 0ZM672.7 709.5a3.1 2.9 0 1 0 6.2 0a3.1 2.9 0 1 0 -6.2 0Z"/>
<path d="M400.2 947.5H405.8M405.8 951.6H411.3M411.3 950.4H416.9M416.9 951H422.5M422.5 950.4H428M428 947.7H439.2M439.2 951.9H450.3M450.3 947.7H461.4M461.4 945.7H472.6M472.6 949.7H489.3M489.3 951.1H506M506 953.2H522.7M522.7 952.2H539.4M539.4 953.5H556.1M556.1 946.7H572.8M572.8 948.7H589.5M589.5 948.3H606.2M606.2 947.7H617.4M617.4 946.7H628.5M628.5 947.2H639.6M639.6 947.7H650.8M650.8 949.6H656.3M656.3 947.2H661.9M661.9 944H667.5M667.5 943.5H673M673 947.5H678.6" fill="none" stroke="#6f3f12" stroke-width="1.6" stroke-dasharray="3.2 1.2 0.9 1.6"/>
<path d="M403 946.8V948.2M408.6 950.6V952.6M414.1 949.4V951.4M419.7 950V952M425.3 949.4V951.4M433.6 946.7V948.7M444.7 950.9V952.9M455.9 946.7V948.7M467 944.7V946.7M480.9 948.7V950.7M497.6 950.1V952.1M514.3 952.2V954.2M531 951.2V953.2M547.8 952.5V954.5M564.5 945.7V947.7M581.2 947.7V949.7M597.9 947.3V949.3M611.8 946.7V948.7M622.9 945.7V947.7M634.1 946.2V948.2M645.2 946.7V948.7M653.5 948.6V950.6M659.1 946.2V948.2M664.7 943V945M670.2 942.5V944.5M675.8 946.8V948.2" fill="none" stroke="#6f3f12" stroke-width="1.6"/>
<path d="M400.2 948.9H405.8M405.8 938.3H411.3M411.3 934.4H416.9M416.9 931.1H422.5M422.5 928.7H428M428 922.3H439.2M439.2 926.6H450.3M450.3 930.8H461.4M461.4 931.9H472.6M472.6 934.5H489.3M489.3 933.3H506M506 935.8H522.7M522.7 935H539.4M539.4 933.3H556.1M556.1 932.5H572.8M572.8 931.5H589.5M589.5 934H606.2M606.2 933.3H617.4M617.4 933.3H628.5M628.5 934.8H639.6M639.6 937.2H650.8M650.8 939.3H656.3M656.3 940.9H661.9M661.9 939.7H667.5M667.5 938.8H673M673 948H678.6" fill="none" stroke="#0000ff" stroke-width="1.7" stroke-dasharray="2 1.44"/>
<path d="M403 946.7l2.2 2.2l-2.2 2.2l-2.2 -2.2ZM408.6 936.1l2.2 2.2l-2.2 2.2l-2.2 -2.2ZM414.1 932.2l2.2 2.2l-2.2 2.2l-2.2 -2.2ZM419.7 928.9l2.2 2.2l-2.2 2.2l-2.2 -2.2ZM425.3 926.5l2.2 2.2l-2.2 2.2l-2.2 -2.2ZM433.6 920.1l2.2 2.2l-2.2 2.2l-2.2 -2.2ZM444.7 924.4l2.2 2.2l-2.2 2.2l-2.2 -2.2ZM455.9 928.6l2.2 2.2l-2.2 2.2l-2.2 -2.2ZM467 929.7l2.2 2.2l-2.2 2.2l-2.2 -2.2ZM480.9 932.3l2.2 2.2l-2.2 2.2l-2.2 -2.2ZM497.6 931.1l2.2 2.2l-2.2 2.2l-2.2 -2.2ZM514.3 933.6l2.2 2.2l-2.2 2.2l-2.2 -2.2ZM531 932.8l2.2 2.2l-2.2 2.2l-2.2 -2.2ZM547.8 931.1l2.2 2.2l-2.2 2.2l-2.2 -2.2ZM564.5 930.3l2.2 2.2l-2.2 2.2l-2.2 -2.2ZM581.2 929.3l2.2 2.2l-2.2 2.2l-2.2 -2.2ZM597.9 931.8l2.2 2.2l-2.2 2.2l-2.2 -2.2ZM611.8 931.1l2.2 2.2l-2.2 2.2l-2.2 -2.2ZM622.9 931.1l2.2 2.2l-2.2 2.2l-2.2 -2.2ZM634.1 932.6l2.2 2.2l-2.2 2.2l-2.2 -2.2ZM645.2 935l2.2 2.2l-2.2 2.2l-2.2 -2.2ZM653.5 937.1l2.2 2.2l-2.2 2.2l-2.2 -2.2ZM659.1 938.7l2.2 2.2l-2.2 2.2l-2.2 -2.2ZM664.7 937.5l2.2 2.2l-2.2 2.2l-2.2 -2.2ZM670.2 936.6l2.2 2.2l-2.2 2.2l-2.2 -2.2ZM675.8 945.8l2.2 2.2l-2.2 2.2l-2.2 -2.2Z" fill="#0000ff"/>
<path d="M400.2 947.2H405.8M405.8 941.9H411.3M411.3 941H416.9M416.9 941.4H422.5M422.5 941.9H428M428 940.7H439.2M439.2 944.5H450.3M450.3 947.5H461.4M461.4 946.3H472.6M472.6 947.3H489.3M489.3 945.7H506M506 948.3H522.7M522.7 947.4H539.4M539.4 945.1H556.1M556.1 943.5H572.8M572.8 943.5H589.5M589.5 944.5H606.2M606.2 942.1H617.4M617.4 941.3H628.5M628.5 942.4H639.6M639.6 942.4H650.8M650.8 942H656.3M656.3 942.4H661.9M661.9 939.7H667.5M667.5 934H673M673 948H678.6" fill="none" stroke="#ff0000" stroke-width="1.6"/>
<path d="M401.6 947.2a1.4 1.4 0 1 0 2.8 0a1.4 1.4 0 1 0 -2.8 0ZM407.2 941.9a1.4 1.4 0 1 0 2.8 0a1.4 1.4 0 1 0 -2.8 0ZM412.7 941a1.4 1.4 0 1 0 2.8 0a1.4 1.4 0 1 0 -2.8 0ZM418.3 941.4a1.4 1.4 0 1 0 2.8 0a1.4 1.4 0 1 0 -2.8 0ZM423.9 941.9a1.4 1.4 0 1 0 2.8 0a1.4 1.4 0 1 0 -2.8 0ZM432.2 940.7a1.4 1.4 0 1 0 2.8 0a1.4 1.4 0 1 0 -2.8 0ZM443.3 944.5a1.4 1.4 0 1 0 2.8 0a1.4 1.4 0 1 0 -2.8 0ZM454.5 947.5a1.4 1.4 0 1 0 2.8 0a1.4 1.4 0 1 0 -2.8 0ZM465.6 946.3a1.4 1.4 0 1 0 2.8 0a1.4 1.4 0 1 0 -2.8 0ZM479.5 947.3a1.4 1.4 0 1 0 2.8 0a1.4 1.4 0 1 0 -2.8 0ZM496.2 945.7a1.4 1.4 0 1 0 2.8 0a1.4 1.4 0 1 0 -2.8 0ZM512.9 948.3a1.4 1.4 0 1 0 2.8 0a1.4 1.4 0 1 0 -2.8 0ZM529.6 947.4a1.4 1.4 0 1 0 2.8 0a1.4 1.4 0 1 0 -2.8 0ZM546.4 945.1a1.4 1.4 0 1 0 2.8 0a1.4 1.4 0 1 0 -2.8 0ZM563.1 943.5a1.4 1.4 0 1 0 2.8 0a1.4 1.4 0 1 0 -2.8 0ZM579.8 943.5a1.4 1.4 0 1 0 2.8 0a1.4 1.4 0 1 0 -2.8 0ZM596.5 944.5a1.4 1.4 0 1 0 2.8 0a1.4 1.4 0 1 0 -2.8 0ZM610.4 942.1a1.4 1.4 0 1 0 2.8 0a1.4 1.4 0 1 0 -2.8 0ZM621.5 941.3a1.4 1.4 0 1 0 2.8 0a1.4 1.4 0 1 0 -2.8 0ZM632.7 942.4a1.4 1.4 0 1 0 2.8 0a1.4 1.4 0 1 0 -2.8 0ZM643.8 942.4a1.4 1.4 0 1 0 2.8 0a1.4 1.4 0 1 0 -2.8 0ZM652.1 942a1.4 1.4 0 1 0 2.8 0a1.4 1.4 0 1 0 -2.8 0ZM657.7 942.4a1.4 1.4 0 1 0 2.8 0a1.4 1.4 0 1 0 -2.8 0ZM663.3 939.7a1.4 1.4 0 1 0 2.8 0a1.4 1.4 0 1 0 -2.8 0ZM668.8 934a1.4 1.4 0 1 0 2.8 0a1.4 1.4 0 1 0 -2.8 0ZM674.4 948a1.4 1.4 0 1 0 2.8 0a1.4 1.4 0 1 0 -2.8 0Z" fill="#ff0000"/>
<path d="M400.2 686.7H678.6V986.2H400.2ZM400.2 895.2H678.6" fill="none" stroke="#000" stroke-width="1.3"/>
<path d="M400.2 686.7V691.7M400.2 891.2V898.7M400.2 986.2V982.9M407.2 686.7V689.2M407.2 893.6V897.2M407.2 986.2V984.8M414.1 686.7V689.2M414.1 893.6V897.2M414.1 986.2V984.8M421.1 686.7V689.2M421.1 893.6V897.2M421.1 986.2V984.8M428 686.7V691.7M428 891.2V898.7M428 986.2V982.9M435 686.7V689.2M435 893.6V897.2M435 986.2V984.8M442 686.7V689.2M442 893.6V897.2M442 986.2V984.8M448.9 686.7V689.2M448.9 893.6V897.2M448.9 986.2V984.8M455.9 686.7V691.7M455.9 891.2V898.7M455.9 986.2V982.9M462.8 686.7V689.2M462.8 893.6V897.2M462.8 986.2V984.8M469.8 686.7V689.2M469.8 893.6V897.2M469.8 986.2V984.8M476.8 686.7V689.2M476.8 893.6V897.2M476.8 986.2V984.8M483.7 686.7V691.7M483.7 891.2V898.7M483.7 986.2V982.9M490.7 686.7V689.2M490.7 893.6V897.2M490.7 986.2V984.8M497.6 686.7V689.2M497.6 893.6V897.2M497.6 986.2V984.8M504.6 686.7V689.2M504.6 893.6V897.2M504.6 986.2V984.8M511.6 686.7V691.7M511.6 891.2V898.7M511.6 986.2V982.9M518.5 686.7V689.2M518.5 893.6V897.2M518.5 986.2V984.8M525.5 686.7V689.2M525.5 893.6V897.2M525.5 986.2V984.8M532.4 686.7V689.2M532.4 893.6V897.2M532.4 986.2V984.8M539.4 686.7V691.7M539.4 891.2V898.7M539.4 986.2V982.9M546.4 686.7V689.2M546.4 893.6V897.2M546.4 986.2V984.8M553.3 686.7V689.2M553.3 893.6V897.2M553.3 986.2V984.8M560.3 686.7V689.2M560.3 893.6V897.2M560.3 986.2V984.8M567.2 686.7V691.7M567.2 891.2V898.7M567.2 986.2V982.9M574.2 686.7V689.2M574.2 893.6V897.2M574.2 986.2V984.8M581.2 686.7V689.2M581.2 893.6V897.2M581.2 986.2V984.8M588.1 686.7V689.2M588.1 893.6V897.2M588.1 986.2V984.8M595.1 686.7V691.7M595.1 891.2V898.7M595.1 986.2V982.9M602 686.7V689.2M602 893.6V897.2M602 986.2V984.8M609 686.7V689.2M609 893.6V897.2M609 986.2V984.8M616 686.7V689.2M616 893.6V897.2M616 986.2V984.8M622.9 686.7V691.7M622.9 891.2V898.7M622.9 986.2V982.9M629.9 686.7V689.2M629.9 893.6V897.2M629.9 986.2V984.8M636.8 686.7V689.2M636.8 893.6V897.2M636.8 986.2V984.8M643.8 686.7V689.2M643.8 893.6V897.2M643.8 986.2V984.8M650.8 686.7V691.7M650.8 891.2V898.7M650.8 986.2V982.9M657.7 686.7V689.2M657.7 893.6V897.2M657.7 986.2V984.8M664.7 686.7V689.2M664.7 893.6V897.2M664.7 986.2V984.8M671.6 686.7V689.2M671.6 893.6V897.2M671.6 986.2V984.8M678.6 686.7V691.7M678.6 891.2V898.7M678.6 986.2V982.9M400.2 895.2H404.7M674.1 895.2H678.6M400.2 891.9H404.7M674.1 891.9H678.6M400.2 888.9H404.7M674.1 888.9H678.6M400.2 886.3H409.2M669.6 886.3H678.6M400.2 869H404.7M674.1 869H678.6M400.2 858.9H404.7M674.1 858.9H678.6M400.2 851.7H404.7M674.1 851.7H678.6M400.2 846.2H404.7M674.1 846.2H678.6M400.2 841.6H404.7M674.1 841.6H678.6M400.2 837.8H404.7M674.1 837.8H678.6M400.2 834.5H404.7M674.1 834.5H678.6M400.2 831.5H404.7M674.1 831.5H678.6M400.2 828.9H409.2M669.6 828.9H678.6M400.2 811.6H404.7M674.1 811.6H678.6M400.2 801.5H404.7M674.1 801.5H678.6M400.2 794.3H404.7M674.1 794.3H678.6M400.2 788.8H404.7M674.1 788.8H678.6M400.2 784.2H404.7M674.1 784.2H678.6M400.2 780.4H404.7M674.1 780.4H678.6M400.2 777.1H404.7M674.1 777.1H678.6M400.2 774.1H404.7M674.1 774.1H678.6M400.2 771.5H409.2M669.6 771.5H678.6M400.2 754.2H404.7M674.1 754.2H678.6M400.2 744.1H404.7M674.1 744.1H678.6M400.2 736.9H404.7M674.1 736.9H678.6M400.2 731.4H404.7M674.1 731.4H678.6M400.2 726.8H404.7M674.1 726.8H678.6M400.2 723H404.7M674.1 723H678.6M400.2 719.7H404.7M674.1 719.7H678.6M400.2 716.7H404.7M674.1 716.7H678.6M400.2 714.1H409.2M669.6 714.1H678.6M400.2 696.8H404.7M674.1 696.8H678.6M400.2 686.7H404.7M674.1 686.7H678.6M400.2 981.1H407.4M671.4 981.1H678.6M400.2 974.4H403.9M674.9 974.4H678.6M400.2 967.7H403.9M674.9 967.7H678.6M400.2 960.9H403.9M674.9 960.9H678.6M400.2 954.2H403.9M674.9 954.2H678.6M400.2 947.5H407.4M671.4 947.5H678.6M400.2 940.8H403.9M674.9 940.8H678.6M400.2 934.1H403.9M674.9 934.1H678.6M400.2 927.3H403.9M674.9 927.3H678.6M400.2 920.6H403.9M674.9 920.6H678.6M400.2 913.9H407.4M671.4 913.9H678.6M400.2 907.2H403.9M674.9 907.2H678.6M400.2 900.5H403.9M674.9 900.5H678.6" fill="none" stroke="#000" stroke-width="1.2"/>
<text x="384.95" y="717.99" font-size="10.0" textLength="12.00" lengthAdjust="spacingAndGlyphs">10</text>
<text x="392.35" y="775.40" font-size="10.0" textLength="4.60" lengthAdjust="spacingAndGlyphs">1</text>
<text x="379.80" y="832.80" font-size="10.0" textLength="17.85" lengthAdjust="spacingAndGlyphs">10<tspan dy="-3.4" font-size="7">-1</tspan></text>
<text x="379.80" y="890.21" font-size="10.0" textLength="17.85" lengthAdjust="spacingAndGlyphs">10<tspan dy="-3.4" font-size="7">-2</tspan></text>
<text x="383.25" y="917.80" font-size="10.0" textLength="12.90" lengthAdjust="spacingAndGlyphs">1.5</text>
<text x="392.35" y="951.40" font-size="10.0" textLength="4.30" lengthAdjust="spacingAndGlyphs">1</text>
<text x="383.25" y="985.00" font-size="10.0" textLength="12.90" lengthAdjust="spacingAndGlyphs">0.5</text>
<text x="395.70" y="996.80" font-size="10.0" textLength="8.30" lengthAdjust="spacingAndGlyphs">-1</text>
<text x="418.29" y="996.80" font-size="10.0" textLength="18.80" lengthAdjust="spacingAndGlyphs">-0.8</text>
<text x="446.13" y="996.80" font-size="10.0" textLength="18.80" lengthAdjust="spacingAndGlyphs">-0.6</text>
<text x="473.97" y="996.80" font-size="10.0" textLength="18.80" lengthAdjust="spacingAndGlyphs">-0.4</text>
<text x="501.81" y="996.80" font-size="10.0" textLength="18.80" lengthAdjust="spacingAndGlyphs">-0.2</text>
<text x="536.10" y="996.80" font-size="10.0" textLength="6.60" lengthAdjust="spacingAndGlyphs">0</text>
<text x="559.64" y="996.80" font-size="10.0" textLength="15.20" lengthAdjust="spacingAndGlyphs">0.2</text>
<text x="587.48" y="996.80" font-size="10.0" textLength="15.20" lengthAdjust="spacingAndGlyphs">0.4</text>
<text x="615.32" y="996.80" font-size="10.0" textLength="15.20" lengthAdjust="spacingAndGlyphs">0.6</text>
<text x="643.16" y="996.80" font-size="10.0" textLength="15.20" lengthAdjust="spacingAndGlyphs">0.8</text>
<text x="677.25" y="996.80" font-size="10.0" textLength="4.30" lengthAdjust="spacingAndGlyphs">1</text>
<text x="645.50" y="1011.50" font-size="11" textLength="33.20" lengthAdjust="spacingAndGlyphs">cos &#981;</text>
<text transform="translate(377.90,778.50) rotate(-90)" font-size="12" textLength="92" lengthAdjust="spacingAndGlyphs">(1/&#963;) d&#931;/d(cos &#981;)</text>
<text transform="translate(378.20,969.00) rotate(-90)" font-size="12.6" textLength="58" lengthAdjust="spacingAndGlyphs">MC / Data</text>
<rect x="420.30" y="903.90" width="17.4" height="8.3" fill="#66cc66" stroke="#000" stroke-width="0.8"/>
<text x="442.70" y="911.20" font-size="9.6" textLength="42.20" lengthAdjust="spacingAndGlyphs">Data stat.</text>
<text x="498.90" y="911.20" font-size="9.6" textLength="42.20" lengthAdjust="spacingAndGlyphs">syst. unc.</text>
<g transform="translate(492.10,908.10)" stroke="#000" stroke-width="0.8"><circle r="3.1" fill="none"/><line x1="-3.1" y1="0" x2="3.1" y2="0"/><line x1="0" y1="-3.1" x2="0" y2="3.1"/></g>
<text x="452.50" y="715.70" font-size="14" textLength="52.50" lengthAdjust="spacingAndGlyphs" font-weight="bold" font-style="italic">ATLAS</text>
<text x="432.90" y="743.10" font-size="10.3" textLength="104.80" lengthAdjust="spacingAndGlyphs" >s = 8 TeV; 20.2 fb<tspan dy="-5.2" font-size="7">-1</tspan></text>
<path d="M427.80,737.80 L429.80,743.50 L431.30,734.30 L438.40,734.30" fill="none" stroke="#000" stroke-width="1.1"/>
<text x="431.00" y="766.80" font-size="10.5" textLength="102.80" lengthAdjust="spacingAndGlyphs" >anti-k<tspan dy="3.2" font-size="7">t</tspan><tspan dy="-3.2"> jets R = 0.4</tspan></text>
<text x="441.50" y="793.90" font-size="10.3" textLength="85.50" lengthAdjust="spacingAndGlyphs" >H<tspan dy="3.9" font-size="7">T2</tspan><tspan dy="-3.9"> &gt; 1400 GeV</tspan></text>
<text x="590.00" y="715.85" font-size="10.4" textLength="57.40" lengthAdjust="spacingAndGlyphs" >Data 2012</text>
<text x="590.00" y="735.20" font-size="10.4" textLength="41.40" lengthAdjust="spacingAndGlyphs" >Pythia8</text>
<text x="590.00" y="755.00" font-size="10.4" textLength="52.70" lengthAdjust="spacingAndGlyphs" >Herwig++</text>
<text x="589.70" y="773.70" font-size="10.4" textLength="39.90" lengthAdjust="spacingAndGlyphs" >Sherpa</text>
<ellipse cx="578.70" cy="712.20" rx="3.1" ry="2.9"/>
<line x1="570.10" y1="731.60" x2="587.10" y2="731.60" stroke="#ff0000" stroke-width="1.6" />
<line x1="570.10" y1="750.80" x2="586.70" y2="750.80" stroke="#0000ff" stroke-width="1.7" stroke-dasharray="2 1.44"/>
<line x1="570.10" y1="770.00" x2="587.10" y2="770.00" stroke="#6f3f12" stroke-width="1.6" stroke-dasharray="3.2 1.2 0.9 1.6"/>
</svg></body></html>
